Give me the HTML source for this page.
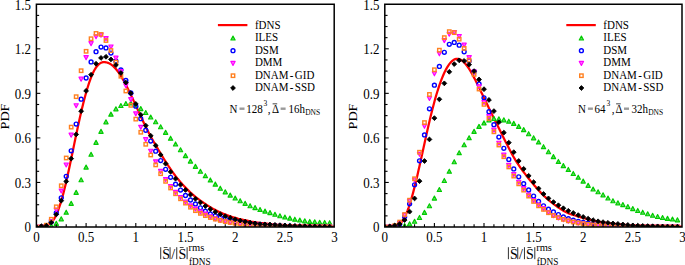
<!DOCTYPE html>
<html><head><meta charset="utf-8"><style>
html,body{margin:0;padding:0;background:#fff;}
body{width:685px;height:265px;position:relative;overflow:hidden;font-family:"Liberation Serif",serif;}
</style></head><body>
<svg width="685" height="265" viewBox="0 0 685 265" style="position:absolute;left:0;top:0">
<defs>
<clipPath id="clipL"><rect x="36.4" y="4.25" width="297.80" height="222.75"/></clipPath>
<clipPath id="clipR"><rect x="384.8" y="4.25" width="297.20" height="222.75"/></clipPath>
</defs>
<g clip-path="url(#clipL)">
<polyline points="36.40,226.93 37.39,226.89 38.39,226.84 39.38,226.77 40.38,226.68 41.37,226.55 42.36,226.38 43.36,226.16 44.35,225.88 45.35,225.55 46.34,225.35 47.33,225.06 48.33,224.66 49.32,224.12 50.32,223.41 51.31,222.52 52.30,221.43 53.30,220.12 54.29,218.58 55.29,216.81 56.28,214.78 57.27,212.51 58.27,209.99 59.26,207.22 60.26,204.22 61.25,200.98 62.24,197.52 63.24,193.85 64.23,189.97 65.23,185.92 66.22,181.69 67.21,177.32 68.21,172.82 69.20,168.21 70.20,163.52 71.19,158.77 72.18,153.98 73.18,149.17 74.17,144.37 75.17,139.59 76.16,134.85 77.15,130.17 78.15,125.56 79.14,121.04 80.14,116.61 81.13,112.29 82.12,108.10 83.12,104.03 84.11,100.10 85.11,96.32 86.10,92.71 87.09,89.27 88.09,86.01 89.08,82.95 90.08,80.09 91.07,77.44 92.06,75.00 93.06,72.79 94.05,70.79 95.05,69.02 96.04,67.48 97.03,66.14 98.03,65.02 99.02,64.10 100.02,63.37 101.01,62.82 102.00,62.44 103.00,62.20 103.99,62.10 104.99,62.13 105.98,62.27 106.97,62.51 107.97,62.84 108.96,63.27 109.96,63.79 110.95,64.41 111.94,65.13 112.94,65.95 113.93,66.88 114.93,67.91 115.92,69.03 116.91,70.26 117.91,71.57 118.90,72.97 119.90,74.45 120.89,76.00 121.88,77.62 122.88,79.31 123.87,81.07 124.87,82.88 125.86,84.75 126.85,86.67 127.85,88.64 128.84,90.64 129.84,92.69 130.83,94.76 131.82,96.86 132.82,98.98 133.81,101.12 134.81,103.27 135.80,105.44 136.79,107.61 137.79,109.78 138.78,111.96 139.78,114.13 140.77,116.29 141.76,118.44 142.76,120.57 143.75,122.68 144.75,124.76 145.74,126.81 146.73,128.82 147.73,130.78 148.72,132.70 149.72,134.58 150.71,136.42 151.70,138.21 152.70,139.98 153.69,141.73 154.69,143.46 155.68,145.18 156.67,146.88 157.67,148.58 158.66,150.27 159.66,151.94 160.65,153.60 161.64,155.24 162.64,156.87 163.63,158.48 164.63,160.07 165.62,161.65 166.61,163.20 167.61,164.74 168.60,166.25 169.60,167.74 170.59,169.20 171.58,170.64 172.58,172.05 173.57,173.43 174.57,174.77 175.56,176.08 176.55,177.36 177.55,178.61 178.54,179.83 179.54,181.01 180.53,182.17 181.52,183.30 182.52,184.41 183.51,185.50 184.51,186.56 185.50,187.61 186.49,188.63 187.49,189.64 188.48,190.63 189.48,191.59 190.47,192.53 191.46,193.44 192.46,194.33 193.45,195.19 194.45,196.03 195.44,196.85 196.43,197.64 197.43,198.41 198.42,199.17 199.42,199.91 200.41,200.63 201.40,201.34 202.40,202.03 203.39,202.71 204.39,203.39 205.38,204.05 206.37,204.70 207.37,205.34 208.36,205.97 209.36,206.59 210.35,207.20 211.34,207.80 212.34,208.38 213.33,208.94 214.33,209.49 215.32,210.02 216.31,210.53 217.31,211.03 218.30,211.51 219.30,211.98 220.29,212.44 221.28,212.88 222.28,213.31 223.27,213.72 224.27,214.13 225.26,214.52 226.25,214.91 227.25,215.28 228.24,215.64 229.24,216.00 230.23,216.34 231.22,216.67 232.22,216.99 233.21,217.31 234.21,217.61 235.20,217.90 236.19,218.19 237.19,218.46 238.18,218.73 239.18,218.99 240.17,219.23 241.16,219.42 242.16,219.62 243.15,219.81 244.15,220.01 245.14,220.22 246.13,220.44 247.13,220.66 248.12,220.90 249.12,221.13 250.11,221.37 251.10,221.58 252.10,221.75 253.09,221.92 254.09,222.09 255.08,222.25 256.07,222.40 257.07,222.55 258.06,222.70 259.06,222.84 260.05,222.95 261.04,223.03 262.04,223.12 263.03,223.21 264.03,223.31 265.02,223.42 266.01,223.54 267.01,223.68 268.00,223.82 269.00,223.97 269.99,224.12 270.98,224.25 271.98,224.35 272.97,224.44 273.97,224.54 274.96,224.62 275.95,224.71 276.95,224.79 277.94,224.87 278.94,224.95 279.93,224.97 280.92,224.98 281.92,224.99 282.91,224.99 283.91,225.01 284.90,225.02 285.89,225.05 286.89,225.08 287.88,225.11 288.88,225.15 289.87,225.19 290.86,225.24 291.86,225.28 292.85,225.33 293.85,225.38 294.84,225.42 295.83,225.47 296.83,225.51 297.82,225.56 298.82,225.60 299.81,225.64 300.80,225.68 301.80,225.72 302.79,225.76 303.79,225.80 304.78,225.83 305.77,225.87 306.77,225.90 307.76,225.93 308.76,225.97 309.75,226.00 310.74,226.03 311.74,226.06 312.73,226.08 313.73,226.11 314.72,226.14 315.71,226.16 316.71,226.19 317.70,226.21 318.70,226.24 319.69,226.26 320.68,226.28 321.68,226.30 322.67,226.32 323.67,226.34 324.66,226.36 325.65,226.38 326.65,226.40 327.64,226.42 328.64,226.44 329.63,226.45 330.62,226.47 331.62,226.48 332.61,226.50 333.61,226.51 334.60,226.53" fill="none" stroke="#ff0000" stroke-width="2.25" stroke-linejoin="round"/>
<path d="M36.40 224.80L38.55 228.80L34.25 228.80Z" fill="#5cd85c" stroke="#00cc00" stroke-width="1.15" stroke-linejoin="round"/>
<path d="M41.37 224.80L43.52 228.80L39.22 228.80Z" fill="#5cd85c" stroke="#00cc00" stroke-width="1.15" stroke-linejoin="round"/>
<path d="M46.34 224.70L48.49 228.70L44.19 228.70Z" fill="#5cd85c" stroke="#00cc00" stroke-width="1.15" stroke-linejoin="round"/>
<path d="M51.31 223.81L53.46 227.81L49.16 227.81Z" fill="#5cd85c" stroke="#00cc00" stroke-width="1.15" stroke-linejoin="round"/>
<path d="M56.28 221.35L58.43 225.35L54.13 225.35Z" fill="#5cd85c" stroke="#00cc00" stroke-width="1.15" stroke-linejoin="round"/>
<path d="M61.25 216.84L63.40 220.84L59.10 220.84Z" fill="#5cd85c" stroke="#00cc00" stroke-width="1.15" stroke-linejoin="round"/>
<path d="M66.22 210.17L68.37 214.17L64.07 214.17Z" fill="#5cd85c" stroke="#00cc00" stroke-width="1.15" stroke-linejoin="round"/>
<path d="M71.19 201.32L73.34 205.32L69.04 205.32Z" fill="#5cd85c" stroke="#00cc00" stroke-width="1.15" stroke-linejoin="round"/>
<path d="M76.16 190.31L78.31 194.31L74.01 194.31Z" fill="#5cd85c" stroke="#00cc00" stroke-width="1.15" stroke-linejoin="round"/>
<path d="M81.13 177.76L83.28 181.76L78.98 181.76Z" fill="#5cd85c" stroke="#00cc00" stroke-width="1.15" stroke-linejoin="round"/>
<path d="M86.10 165.08L88.25 169.08L83.95 169.08Z" fill="#5cd85c" stroke="#00cc00" stroke-width="1.15" stroke-linejoin="round"/>
<path d="M91.07 152.25L93.22 156.25L88.92 156.25Z" fill="#5cd85c" stroke="#00cc00" stroke-width="1.15" stroke-linejoin="round"/>
<path d="M96.04 140.34L98.19 144.34L93.89 144.34Z" fill="#5cd85c" stroke="#00cc00" stroke-width="1.15" stroke-linejoin="round"/>
<path d="M101.01 129.35L103.16 133.35L98.86 133.35Z" fill="#5cd85c" stroke="#00cc00" stroke-width="1.15" stroke-linejoin="round"/>
<path d="M105.98 119.85L108.13 123.85L103.83 123.85Z" fill="#5cd85c" stroke="#00cc00" stroke-width="1.15" stroke-linejoin="round"/>
<path d="M110.95 112.14L113.10 116.14L108.80 116.14Z" fill="#5cd85c" stroke="#00cc00" stroke-width="1.15" stroke-linejoin="round"/>
<path d="M115.92 106.82L118.07 110.82L113.77 110.82Z" fill="#5cd85c" stroke="#00cc00" stroke-width="1.15" stroke-linejoin="round"/>
<path d="M120.89 103.54L123.04 107.54L118.74 107.54Z" fill="#5cd85c" stroke="#00cc00" stroke-width="1.15" stroke-linejoin="round"/>
<path d="M125.86 101.49L128.01 105.49L123.71 105.49Z" fill="#5cd85c" stroke="#00cc00" stroke-width="1.15" stroke-linejoin="round"/>
<path d="M130.83 100.93L132.98 104.93L128.68 104.93Z" fill="#5cd85c" stroke="#00cc00" stroke-width="1.15" stroke-linejoin="round"/>
<path d="M135.80 103.03L137.95 107.03L133.65 107.03Z" fill="#5cd85c" stroke="#00cc00" stroke-width="1.15" stroke-linejoin="round"/>
<path d="M140.77 106.58L142.92 110.58L138.62 110.58Z" fill="#5cd85c" stroke="#00cc00" stroke-width="1.15" stroke-linejoin="round"/>
<path d="M145.74 110.50L147.89 114.50L143.59 114.50Z" fill="#5cd85c" stroke="#00cc00" stroke-width="1.15" stroke-linejoin="round"/>
<path d="M150.71 114.99L152.86 118.99L148.56 118.99Z" fill="#5cd85c" stroke="#00cc00" stroke-width="1.15" stroke-linejoin="round"/>
<path d="M155.68 119.75L157.83 123.75L153.53 123.75Z" fill="#5cd85c" stroke="#00cc00" stroke-width="1.15" stroke-linejoin="round"/>
<path d="M160.65 124.79L162.80 128.79L158.50 128.79Z" fill="#5cd85c" stroke="#00cc00" stroke-width="1.15" stroke-linejoin="round"/>
<path d="M165.62 130.31L167.77 134.31L163.47 134.31Z" fill="#5cd85c" stroke="#00cc00" stroke-width="1.15" stroke-linejoin="round"/>
<path d="M170.59 136.19L172.74 140.19L168.44 140.19Z" fill="#5cd85c" stroke="#00cc00" stroke-width="1.15" stroke-linejoin="round"/>
<path d="M175.56 141.95L177.71 145.95L173.41 145.95Z" fill="#5cd85c" stroke="#00cc00" stroke-width="1.15" stroke-linejoin="round"/>
<path d="M180.53 147.73L182.68 151.73L178.38 151.73Z" fill="#5cd85c" stroke="#00cc00" stroke-width="1.15" stroke-linejoin="round"/>
<path d="M185.50 153.63L187.65 157.63L183.35 157.63Z" fill="#5cd85c" stroke="#00cc00" stroke-width="1.15" stroke-linejoin="round"/>
<path d="M190.47 159.09L192.62 163.09L188.32 163.09Z" fill="#5cd85c" stroke="#00cc00" stroke-width="1.15" stroke-linejoin="round"/>
<path d="M195.44 164.35L197.59 168.35L193.29 168.35Z" fill="#5cd85c" stroke="#00cc00" stroke-width="1.15" stroke-linejoin="round"/>
<path d="M200.41 169.27L202.56 173.27L198.26 173.27Z" fill="#5cd85c" stroke="#00cc00" stroke-width="1.15" stroke-linejoin="round"/>
<path d="M205.38 173.66L207.53 177.66L203.23 177.66Z" fill="#5cd85c" stroke="#00cc00" stroke-width="1.15" stroke-linejoin="round"/>
<path d="M210.35 177.91L212.50 181.91L208.20 181.91Z" fill="#5cd85c" stroke="#00cc00" stroke-width="1.15" stroke-linejoin="round"/>
<path d="M215.32 182.13L217.47 186.13L213.17 186.13Z" fill="#5cd85c" stroke="#00cc00" stroke-width="1.15" stroke-linejoin="round"/>
<path d="M220.29 186.21L222.44 190.21L218.14 190.21Z" fill="#5cd85c" stroke="#00cc00" stroke-width="1.15" stroke-linejoin="round"/>
<path d="M225.26 189.81L227.41 193.81L223.11 193.81Z" fill="#5cd85c" stroke="#00cc00" stroke-width="1.15" stroke-linejoin="round"/>
<path d="M230.23 193.10L232.38 197.10L228.08 197.10Z" fill="#5cd85c" stroke="#00cc00" stroke-width="1.15" stroke-linejoin="round"/>
<path d="M235.20 196.01L237.35 200.01L233.05 200.01Z" fill="#5cd85c" stroke="#00cc00" stroke-width="1.15" stroke-linejoin="round"/>
<path d="M240.17 198.72L242.32 202.72L238.02 202.72Z" fill="#5cd85c" stroke="#00cc00" stroke-width="1.15" stroke-linejoin="round"/>
<path d="M245.14 201.35L247.29 205.35L242.99 205.35Z" fill="#5cd85c" stroke="#00cc00" stroke-width="1.15" stroke-linejoin="round"/>
<path d="M250.11 203.71L252.26 207.71L247.96 207.71Z" fill="#5cd85c" stroke="#00cc00" stroke-width="1.15" stroke-linejoin="round"/>
<path d="M255.08 205.60L257.23 209.60L252.93 209.60Z" fill="#5cd85c" stroke="#00cc00" stroke-width="1.15" stroke-linejoin="round"/>
<path d="M260.05 207.43L262.20 211.43L257.90 211.43Z" fill="#5cd85c" stroke="#00cc00" stroke-width="1.15" stroke-linejoin="round"/>
<path d="M265.02 209.12L267.17 213.12L262.87 213.12Z" fill="#5cd85c" stroke="#00cc00" stroke-width="1.15" stroke-linejoin="round"/>
<path d="M269.99 210.59L272.14 214.59L267.84 214.59Z" fill="#5cd85c" stroke="#00cc00" stroke-width="1.15" stroke-linejoin="round"/>
<path d="M274.96 212.26L277.11 216.26L272.81 216.26Z" fill="#5cd85c" stroke="#00cc00" stroke-width="1.15" stroke-linejoin="round"/>
<path d="M279.93 213.77L282.08 217.77L277.78 217.77Z" fill="#5cd85c" stroke="#00cc00" stroke-width="1.15" stroke-linejoin="round"/>
<path d="M284.90 214.99L287.05 218.99L282.75 218.99Z" fill="#5cd85c" stroke="#00cc00" stroke-width="1.15" stroke-linejoin="round"/>
<path d="M289.87 216.09L292.02 220.09L287.72 220.09Z" fill="#5cd85c" stroke="#00cc00" stroke-width="1.15" stroke-linejoin="round"/>
<path d="M294.84 217.15L296.99 221.15L292.69 221.15Z" fill="#5cd85c" stroke="#00cc00" stroke-width="1.15" stroke-linejoin="round"/>
<path d="M299.81 218.02L301.96 222.02L297.66 222.02Z" fill="#5cd85c" stroke="#00cc00" stroke-width="1.15" stroke-linejoin="round"/>
<path d="M304.78 218.81L306.93 222.81L302.63 222.81Z" fill="#5cd85c" stroke="#00cc00" stroke-width="1.15" stroke-linejoin="round"/>
<path d="M309.75 219.40L311.90 223.40L307.60 223.40Z" fill="#5cd85c" stroke="#00cc00" stroke-width="1.15" stroke-linejoin="round"/>
<path d="M314.72 219.82L316.87 223.82L312.57 223.82Z" fill="#5cd85c" stroke="#00cc00" stroke-width="1.15" stroke-linejoin="round"/>
<path d="M319.69 220.23L321.84 224.23L317.54 224.23Z" fill="#5cd85c" stroke="#00cc00" stroke-width="1.15" stroke-linejoin="round"/>
<path d="M324.66 220.42L326.81 224.42L322.51 224.42Z" fill="#5cd85c" stroke="#00cc00" stroke-width="1.15" stroke-linejoin="round"/>
<path d="M329.63 220.69L331.78 224.69L327.48 224.69Z" fill="#5cd85c" stroke="#00cc00" stroke-width="1.15" stroke-linejoin="round"/>
<circle cx="36.40" cy="227.00" r="1.95" fill="none" stroke="#0000ff" stroke-width="1.4"/>
<circle cx="41.37" cy="226.86" r="1.95" fill="none" stroke="#0000ff" stroke-width="1.4"/>
<circle cx="46.34" cy="225.75" r="1.95" fill="none" stroke="#0000ff" stroke-width="1.4"/>
<circle cx="51.31" cy="221.63" r="1.95" fill="none" stroke="#0000ff" stroke-width="1.4"/>
<circle cx="56.28" cy="212.96" r="1.95" fill="none" stroke="#0000ff" stroke-width="1.4"/>
<circle cx="61.25" cy="197.82" r="1.95" fill="none" stroke="#0000ff" stroke-width="1.4"/>
<circle cx="66.22" cy="176.36" r="1.95" fill="none" stroke="#0000ff" stroke-width="1.4"/>
<circle cx="71.19" cy="150.86" r="1.95" fill="none" stroke="#0000ff" stroke-width="1.4"/>
<circle cx="76.16" cy="124.05" r="1.95" fill="none" stroke="#0000ff" stroke-width="1.4"/>
<circle cx="81.13" cy="99.16" r="1.95" fill="none" stroke="#0000ff" stroke-width="1.4"/>
<circle cx="86.10" cy="78.00" r="1.95" fill="none" stroke="#0000ff" stroke-width="1.4"/>
<circle cx="91.07" cy="61.89" r="1.95" fill="none" stroke="#0000ff" stroke-width="1.4"/>
<circle cx="96.04" cy="51.68" r="1.95" fill="none" stroke="#0000ff" stroke-width="1.4"/>
<circle cx="101.01" cy="47.03" r="1.95" fill="none" stroke="#0000ff" stroke-width="1.4"/>
<circle cx="105.98" cy="47.89" r="1.95" fill="none" stroke="#0000ff" stroke-width="1.4"/>
<circle cx="110.95" cy="53.11" r="1.95" fill="none" stroke="#0000ff" stroke-width="1.4"/>
<circle cx="115.92" cy="61.22" r="1.95" fill="none" stroke="#0000ff" stroke-width="1.4"/>
<circle cx="120.89" cy="69.98" r="1.95" fill="none" stroke="#0000ff" stroke-width="1.4"/>
<circle cx="125.86" cy="80.42" r="1.95" fill="none" stroke="#0000ff" stroke-width="1.4"/>
<circle cx="130.83" cy="93.02" r="1.95" fill="none" stroke="#0000ff" stroke-width="1.4"/>
<circle cx="135.80" cy="106.22" r="1.95" fill="none" stroke="#0000ff" stroke-width="1.4"/>
<circle cx="140.77" cy="118.67" r="1.95" fill="none" stroke="#0000ff" stroke-width="1.4"/>
<circle cx="145.74" cy="130.25" r="1.95" fill="none" stroke="#0000ff" stroke-width="1.4"/>
<circle cx="150.71" cy="141.12" r="1.95" fill="none" stroke="#0000ff" stroke-width="1.4"/>
<circle cx="155.68" cy="151.21" r="1.95" fill="none" stroke="#0000ff" stroke-width="1.4"/>
<circle cx="160.65" cy="160.60" r="1.95" fill="none" stroke="#0000ff" stroke-width="1.4"/>
<circle cx="165.62" cy="169.28" r="1.95" fill="none" stroke="#0000ff" stroke-width="1.4"/>
<circle cx="170.59" cy="177.35" r="1.95" fill="none" stroke="#0000ff" stroke-width="1.4"/>
<circle cx="175.56" cy="184.18" r="1.95" fill="none" stroke="#0000ff" stroke-width="1.4"/>
<circle cx="180.53" cy="190.07" r="1.95" fill="none" stroke="#0000ff" stroke-width="1.4"/>
<circle cx="185.50" cy="195.50" r="1.95" fill="none" stroke="#0000ff" stroke-width="1.4"/>
<circle cx="190.47" cy="199.98" r="1.95" fill="none" stroke="#0000ff" stroke-width="1.4"/>
<circle cx="195.44" cy="203.91" r="1.95" fill="none" stroke="#0000ff" stroke-width="1.4"/>
<circle cx="200.41" cy="207.79" r="1.95" fill="none" stroke="#0000ff" stroke-width="1.4"/>
<circle cx="205.38" cy="211.18" r="1.95" fill="none" stroke="#0000ff" stroke-width="1.4"/>
<circle cx="210.35" cy="213.89" r="1.95" fill="none" stroke="#0000ff" stroke-width="1.4"/>
<circle cx="215.32" cy="215.71" r="1.95" fill="none" stroke="#0000ff" stroke-width="1.4"/>
<circle cx="220.29" cy="217.22" r="1.95" fill="none" stroke="#0000ff" stroke-width="1.4"/>
<circle cx="225.26" cy="218.77" r="1.95" fill="none" stroke="#0000ff" stroke-width="1.4"/>
<circle cx="230.23" cy="220.09" r="1.95" fill="none" stroke="#0000ff" stroke-width="1.4"/>
<circle cx="235.20" cy="221.21" r="1.95" fill="none" stroke="#0000ff" stroke-width="1.4"/>
<circle cx="240.17" cy="222.15" r="1.95" fill="none" stroke="#0000ff" stroke-width="1.4"/>
<circle cx="245.14" cy="222.94" r="1.95" fill="none" stroke="#0000ff" stroke-width="1.4"/>
<circle cx="250.11" cy="223.61" r="1.95" fill="none" stroke="#0000ff" stroke-width="1.4"/>
<circle cx="255.08" cy="224.17" r="1.95" fill="none" stroke="#0000ff" stroke-width="1.4"/>
<circle cx="260.05" cy="224.64" r="1.95" fill="none" stroke="#0000ff" stroke-width="1.4"/>
<circle cx="265.02" cy="225.03" r="1.95" fill="none" stroke="#0000ff" stroke-width="1.4"/>
<circle cx="269.99" cy="225.36" r="1.95" fill="none" stroke="#0000ff" stroke-width="1.4"/>
<circle cx="274.96" cy="225.63" r="1.95" fill="none" stroke="#0000ff" stroke-width="1.4"/>
<circle cx="279.93" cy="225.86" r="1.95" fill="none" stroke="#0000ff" stroke-width="1.4"/>
<circle cx="284.90" cy="226.05" r="1.95" fill="none" stroke="#0000ff" stroke-width="1.4"/>
<circle cx="289.87" cy="226.21" r="1.95" fill="none" stroke="#0000ff" stroke-width="1.4"/>
<circle cx="294.84" cy="226.35" r="1.95" fill="none" stroke="#0000ff" stroke-width="1.4"/>
<circle cx="299.81" cy="226.46" r="1.95" fill="none" stroke="#0000ff" stroke-width="1.4"/>
<circle cx="304.78" cy="226.55" r="1.95" fill="none" stroke="#0000ff" stroke-width="1.4"/>
<circle cx="309.75" cy="226.62" r="1.95" fill="none" stroke="#0000ff" stroke-width="1.4"/>
<circle cx="314.72" cy="226.69" r="1.95" fill="none" stroke="#0000ff" stroke-width="1.4"/>
<circle cx="319.69" cy="226.74" r="1.95" fill="none" stroke="#0000ff" stroke-width="1.4"/>
<circle cx="324.66" cy="226.79" r="1.95" fill="none" stroke="#0000ff" stroke-width="1.4"/>
<circle cx="329.63" cy="226.82" r="1.95" fill="none" stroke="#0000ff" stroke-width="1.4"/>
<path d="M36.40 229.20L38.55 225.20L34.25 225.20Z" fill="#ff66ff" stroke="#ff00ff" stroke-width="1.15" stroke-linejoin="round"/>
<path d="M41.37 229.19L43.52 225.19L39.22 225.19Z" fill="#ff66ff" stroke="#ff00ff" stroke-width="1.15" stroke-linejoin="round"/>
<path d="M46.34 228.48L48.49 224.48L44.19 224.48Z" fill="#ff66ff" stroke="#ff00ff" stroke-width="1.15" stroke-linejoin="round"/>
<path d="M51.31 223.74L53.46 219.74L49.16 219.74Z" fill="#ff66ff" stroke="#ff00ff" stroke-width="1.15" stroke-linejoin="round"/>
<path d="M56.28 212.08L58.43 208.08L54.13 208.08Z" fill="#ff66ff" stroke="#ff00ff" stroke-width="1.15" stroke-linejoin="round"/>
<path d="M61.25 193.05L63.40 189.05L59.10 189.05Z" fill="#ff66ff" stroke="#ff00ff" stroke-width="1.15" stroke-linejoin="round"/>
<path d="M66.22 167.00L68.37 163.00L64.07 163.00Z" fill="#ff66ff" stroke="#ff00ff" stroke-width="1.15" stroke-linejoin="round"/>
<path d="M71.19 137.17L73.34 133.17L69.04 133.17Z" fill="#ff66ff" stroke="#ff00ff" stroke-width="1.15" stroke-linejoin="round"/>
<path d="M76.16 107.77L78.31 103.77L74.01 103.77Z" fill="#ff66ff" stroke="#ff00ff" stroke-width="1.15" stroke-linejoin="round"/>
<path d="M81.13 81.16L83.28 77.16L78.98 77.16Z" fill="#ff66ff" stroke="#ff00ff" stroke-width="1.15" stroke-linejoin="round"/>
<path d="M86.10 59.63L88.25 55.63L83.95 55.63Z" fill="#ff66ff" stroke="#ff00ff" stroke-width="1.15" stroke-linejoin="round"/>
<path d="M91.07 45.68L93.22 41.68L88.92 41.68Z" fill="#ff66ff" stroke="#ff00ff" stroke-width="1.15" stroke-linejoin="round"/>
<path d="M96.04 38.77L98.19 34.77L93.89 34.77Z" fill="#ff66ff" stroke="#ff00ff" stroke-width="1.15" stroke-linejoin="round"/>
<path d="M101.01 37.12L103.16 33.12L98.86 33.12Z" fill="#ff66ff" stroke="#ff00ff" stroke-width="1.15" stroke-linejoin="round"/>
<path d="M105.98 40.62L108.13 36.62L103.83 36.62Z" fill="#ff66ff" stroke="#ff00ff" stroke-width="1.15" stroke-linejoin="round"/>
<path d="M110.95 48.98L113.10 44.98L108.80 44.98Z" fill="#ff66ff" stroke="#ff00ff" stroke-width="1.15" stroke-linejoin="round"/>
<path d="M115.92 60.18L118.07 56.18L113.77 56.18Z" fill="#ff66ff" stroke="#ff00ff" stroke-width="1.15" stroke-linejoin="round"/>
<path d="M120.89 73.61L123.04 69.61L118.74 69.61Z" fill="#ff66ff" stroke="#ff00ff" stroke-width="1.15" stroke-linejoin="round"/>
<path d="M125.86 87.80L128.01 83.80L123.71 83.80Z" fill="#ff66ff" stroke="#ff00ff" stroke-width="1.15" stroke-linejoin="round"/>
<path d="M130.83 101.62L132.98 97.62L128.68 97.62Z" fill="#ff66ff" stroke="#ff00ff" stroke-width="1.15" stroke-linejoin="round"/>
<path d="M135.80 115.86L137.95 111.86L133.65 111.86Z" fill="#ff66ff" stroke="#ff00ff" stroke-width="1.15" stroke-linejoin="round"/>
<path d="M140.77 129.33L142.92 125.33L138.62 125.33Z" fill="#ff66ff" stroke="#ff00ff" stroke-width="1.15" stroke-linejoin="round"/>
<path d="M145.74 141.68L147.89 137.68L143.59 137.68Z" fill="#ff66ff" stroke="#ff00ff" stroke-width="1.15" stroke-linejoin="round"/>
<path d="M150.71 153.22L152.86 149.22L148.56 149.22Z" fill="#ff66ff" stroke="#ff00ff" stroke-width="1.15" stroke-linejoin="round"/>
<path d="M155.68 163.87L157.83 159.87L153.53 159.87Z" fill="#ff66ff" stroke="#ff00ff" stroke-width="1.15" stroke-linejoin="round"/>
<path d="M160.65 173.42L162.80 169.42L158.50 169.42Z" fill="#ff66ff" stroke="#ff00ff" stroke-width="1.15" stroke-linejoin="round"/>
<path d="M165.62 181.60L167.77 177.60L163.47 177.60Z" fill="#ff66ff" stroke="#ff00ff" stroke-width="1.15" stroke-linejoin="round"/>
<path d="M170.59 188.49L172.74 184.49L168.44 184.49Z" fill="#ff66ff" stroke="#ff00ff" stroke-width="1.15" stroke-linejoin="round"/>
<path d="M175.56 194.36L177.71 190.36L173.41 190.36Z" fill="#ff66ff" stroke="#ff00ff" stroke-width="1.15" stroke-linejoin="round"/>
<path d="M180.53 199.51L182.68 195.51L178.38 195.51Z" fill="#ff66ff" stroke="#ff00ff" stroke-width="1.15" stroke-linejoin="round"/>
<path d="M185.50 204.01L187.65 200.01L183.35 200.01Z" fill="#ff66ff" stroke="#ff00ff" stroke-width="1.15" stroke-linejoin="round"/>
<path d="M190.47 207.89L192.62 203.89L188.32 203.89Z" fill="#ff66ff" stroke="#ff00ff" stroke-width="1.15" stroke-linejoin="round"/>
<path d="M195.44 211.08L197.59 207.08L193.29 207.08Z" fill="#ff66ff" stroke="#ff00ff" stroke-width="1.15" stroke-linejoin="round"/>
<path d="M200.41 213.93L202.56 209.93L198.26 209.93Z" fill="#ff66ff" stroke="#ff00ff" stroke-width="1.15" stroke-linejoin="round"/>
<path d="M205.38 216.14L207.53 212.14L203.23 212.14Z" fill="#ff66ff" stroke="#ff00ff" stroke-width="1.15" stroke-linejoin="round"/>
<path d="M210.35 218.77L212.50 214.77L208.20 214.77Z" fill="#ff66ff" stroke="#ff00ff" stroke-width="1.15" stroke-linejoin="round"/>
<path d="M215.32 220.94L217.47 216.94L213.17 216.94Z" fill="#ff66ff" stroke="#ff00ff" stroke-width="1.15" stroke-linejoin="round"/>
<path d="M220.29 222.38L222.44 218.38L218.14 218.38Z" fill="#ff66ff" stroke="#ff00ff" stroke-width="1.15" stroke-linejoin="round"/>
<path d="M225.26 223.56L227.41 219.56L223.11 219.56Z" fill="#ff66ff" stroke="#ff00ff" stroke-width="1.15" stroke-linejoin="round"/>
<path d="M230.23 224.54L232.38 220.54L228.08 220.54Z" fill="#ff66ff" stroke="#ff00ff" stroke-width="1.15" stroke-linejoin="round"/>
<path d="M235.20 225.36L237.35 221.36L233.05 221.36Z" fill="#ff66ff" stroke="#ff00ff" stroke-width="1.15" stroke-linejoin="round"/>
<path d="M240.17 226.03L242.32 222.03L238.02 222.03Z" fill="#ff66ff" stroke="#ff00ff" stroke-width="1.15" stroke-linejoin="round"/>
<path d="M245.14 226.59L247.29 222.59L242.99 222.59Z" fill="#ff66ff" stroke="#ff00ff" stroke-width="1.15" stroke-linejoin="round"/>
<path d="M250.11 227.06L252.26 223.06L247.96 223.06Z" fill="#ff66ff" stroke="#ff00ff" stroke-width="1.15" stroke-linejoin="round"/>
<path d="M255.08 227.44L257.23 223.44L252.93 223.44Z" fill="#ff66ff" stroke="#ff00ff" stroke-width="1.15" stroke-linejoin="round"/>
<path d="M260.05 227.75L262.20 223.75L257.90 223.75Z" fill="#ff66ff" stroke="#ff00ff" stroke-width="1.15" stroke-linejoin="round"/>
<path d="M265.02 228.01L267.17 224.01L262.87 224.01Z" fill="#ff66ff" stroke="#ff00ff" stroke-width="1.15" stroke-linejoin="round"/>
<path d="M269.99 228.22L272.14 224.22L267.84 224.22Z" fill="#ff66ff" stroke="#ff00ff" stroke-width="1.15" stroke-linejoin="round"/>
<path d="M274.96 228.40L277.11 224.40L272.81 224.40Z" fill="#ff66ff" stroke="#ff00ff" stroke-width="1.15" stroke-linejoin="round"/>
<path d="M279.93 228.54L282.08 224.54L277.78 224.54Z" fill="#ff66ff" stroke="#ff00ff" stroke-width="1.15" stroke-linejoin="round"/>
<path d="M284.90 228.66L287.05 224.66L282.75 224.66Z" fill="#ff66ff" stroke="#ff00ff" stroke-width="1.15" stroke-linejoin="round"/>
<path d="M289.87 228.76L292.02 224.76L287.72 224.76Z" fill="#ff66ff" stroke="#ff00ff" stroke-width="1.15" stroke-linejoin="round"/>
<path d="M294.84 228.84L296.99 224.84L292.69 224.84Z" fill="#ff66ff" stroke="#ff00ff" stroke-width="1.15" stroke-linejoin="round"/>
<path d="M299.81 228.90L301.96 224.90L297.66 224.90Z" fill="#ff66ff" stroke="#ff00ff" stroke-width="1.15" stroke-linejoin="round"/>
<path d="M304.78 228.96L306.93 224.96L302.63 224.96Z" fill="#ff66ff" stroke="#ff00ff" stroke-width="1.15" stroke-linejoin="round"/>
<path d="M309.75 229.00L311.90 225.00L307.60 225.00Z" fill="#ff66ff" stroke="#ff00ff" stroke-width="1.15" stroke-linejoin="round"/>
<path d="M314.72 229.04L316.87 225.04L312.57 225.04Z" fill="#ff66ff" stroke="#ff00ff" stroke-width="1.15" stroke-linejoin="round"/>
<path d="M319.69 229.07L321.84 225.07L317.54 225.07Z" fill="#ff66ff" stroke="#ff00ff" stroke-width="1.15" stroke-linejoin="round"/>
<path d="M324.66 229.09L326.81 225.09L322.51 225.09Z" fill="#ff66ff" stroke="#ff00ff" stroke-width="1.15" stroke-linejoin="round"/>
<path d="M329.63 229.11L331.78 225.11L327.48 225.11Z" fill="#ff66ff" stroke="#ff00ff" stroke-width="1.15" stroke-linejoin="round"/>
<rect x="34.70" y="225.30" width="3.4" height="3.4" fill="none" stroke="#ff8020" stroke-width="1.4"/>
<rect x="39.67" y="225.24" width="3.4" height="3.4" fill="none" stroke="#ff8020" stroke-width="1.4"/>
<rect x="44.64" y="223.50" width="3.4" height="3.4" fill="none" stroke="#ff8020" stroke-width="1.4"/>
<rect x="49.61" y="217.57" width="3.4" height="3.4" fill="none" stroke="#ff8020" stroke-width="1.4"/>
<rect x="54.58" y="205.11" width="3.4" height="3.4" fill="none" stroke="#ff8020" stroke-width="1.4"/>
<rect x="59.55" y="184.09" width="3.4" height="3.4" fill="none" stroke="#ff8020" stroke-width="1.4"/>
<rect x="64.52" y="156.28" width="3.4" height="3.4" fill="none" stroke="#ff8020" stroke-width="1.4"/>
<rect x="69.49" y="125.41" width="3.4" height="3.4" fill="none" stroke="#ff8020" stroke-width="1.4"/>
<rect x="74.46" y="94.99" width="3.4" height="3.4" fill="none" stroke="#ff8020" stroke-width="1.4"/>
<rect x="79.43" y="69.02" width="3.4" height="3.4" fill="none" stroke="#ff8020" stroke-width="1.4"/>
<rect x="84.40" y="49.59" width="3.4" height="3.4" fill="none" stroke="#ff8020" stroke-width="1.4"/>
<rect x="89.37" y="37.04" width="3.4" height="3.4" fill="none" stroke="#ff8020" stroke-width="1.4"/>
<rect x="94.34" y="31.73" width="3.4" height="3.4" fill="none" stroke="#ff8020" stroke-width="1.4"/>
<rect x="99.31" y="32.76" width="3.4" height="3.4" fill="none" stroke="#ff8020" stroke-width="1.4"/>
<rect x="104.28" y="38.82" width="3.4" height="3.4" fill="none" stroke="#ff8020" stroke-width="1.4"/>
<rect x="109.25" y="48.81" width="3.4" height="3.4" fill="none" stroke="#ff8020" stroke-width="1.4"/>
<rect x="114.22" y="60.49" width="3.4" height="3.4" fill="none" stroke="#ff8020" stroke-width="1.4"/>
<rect x="119.19" y="74.55" width="3.4" height="3.4" fill="none" stroke="#ff8020" stroke-width="1.4"/>
<rect x="124.16" y="89.30" width="3.4" height="3.4" fill="none" stroke="#ff8020" stroke-width="1.4"/>
<rect x="129.13" y="103.64" width="3.4" height="3.4" fill="none" stroke="#ff8020" stroke-width="1.4"/>
<rect x="134.10" y="117.41" width="3.4" height="3.4" fill="none" stroke="#ff8020" stroke-width="1.4"/>
<rect x="139.07" y="130.54" width="3.4" height="3.4" fill="none" stroke="#ff8020" stroke-width="1.4"/>
<rect x="144.04" y="142.58" width="3.4" height="3.4" fill="none" stroke="#ff8020" stroke-width="1.4"/>
<rect x="149.01" y="153.31" width="3.4" height="3.4" fill="none" stroke="#ff8020" stroke-width="1.4"/>
<rect x="153.98" y="163.20" width="3.4" height="3.4" fill="none" stroke="#ff8020" stroke-width="1.4"/>
<rect x="158.95" y="172.00" width="3.4" height="3.4" fill="none" stroke="#ff8020" stroke-width="1.4"/>
<rect x="163.92" y="179.64" width="3.4" height="3.4" fill="none" stroke="#ff8020" stroke-width="1.4"/>
<rect x="168.89" y="186.28" width="3.4" height="3.4" fill="none" stroke="#ff8020" stroke-width="1.4"/>
<rect x="173.86" y="192.05" width="3.4" height="3.4" fill="none" stroke="#ff8020" stroke-width="1.4"/>
<rect x="178.83" y="197.08" width="3.4" height="3.4" fill="none" stroke="#ff8020" stroke-width="1.4"/>
<rect x="183.80" y="201.41" width="3.4" height="3.4" fill="none" stroke="#ff8020" stroke-width="1.4"/>
<rect x="188.77" y="205.49" width="3.4" height="3.4" fill="none" stroke="#ff8020" stroke-width="1.4"/>
<rect x="193.74" y="208.97" width="3.4" height="3.4" fill="none" stroke="#ff8020" stroke-width="1.4"/>
<rect x="198.71" y="211.66" width="3.4" height="3.4" fill="none" stroke="#ff8020" stroke-width="1.4"/>
<rect x="203.68" y="213.91" width="3.4" height="3.4" fill="none" stroke="#ff8020" stroke-width="1.4"/>
<rect x="208.65" y="215.81" width="3.4" height="3.4" fill="none" stroke="#ff8020" stroke-width="1.4"/>
<rect x="213.62" y="217.40" width="3.4" height="3.4" fill="none" stroke="#ff8020" stroke-width="1.4"/>
<rect x="218.59" y="218.74" width="3.4" height="3.4" fill="none" stroke="#ff8020" stroke-width="1.4"/>
<rect x="223.56" y="219.85" width="3.4" height="3.4" fill="none" stroke="#ff8020" stroke-width="1.4"/>
<rect x="228.53" y="220.78" width="3.4" height="3.4" fill="none" stroke="#ff8020" stroke-width="1.4"/>
<rect x="233.50" y="221.55" width="3.4" height="3.4" fill="none" stroke="#ff8020" stroke-width="1.4"/>
<rect x="238.47" y="222.20" width="3.4" height="3.4" fill="none" stroke="#ff8020" stroke-width="1.4"/>
<rect x="243.44" y="222.73" width="3.4" height="3.4" fill="none" stroke="#ff8020" stroke-width="1.4"/>
<rect x="248.41" y="223.18" width="3.4" height="3.4" fill="none" stroke="#ff8020" stroke-width="1.4"/>
<rect x="253.38" y="223.55" width="3.4" height="3.4" fill="none" stroke="#ff8020" stroke-width="1.4"/>
<rect x="258.35" y="223.85" width="3.4" height="3.4" fill="none" stroke="#ff8020" stroke-width="1.4"/>
<rect x="263.32" y="224.10" width="3.4" height="3.4" fill="none" stroke="#ff8020" stroke-width="1.4"/>
<rect x="268.29" y="224.31" width="3.4" height="3.4" fill="none" stroke="#ff8020" stroke-width="1.4"/>
<rect x="273.26" y="224.48" width="3.4" height="3.4" fill="none" stroke="#ff8020" stroke-width="1.4"/>
<rect x="278.23" y="224.63" width="3.4" height="3.4" fill="none" stroke="#ff8020" stroke-width="1.4"/>
<rect x="283.20" y="224.74" width="3.4" height="3.4" fill="none" stroke="#ff8020" stroke-width="1.4"/>
<rect x="288.17" y="224.84" width="3.4" height="3.4" fill="none" stroke="#ff8020" stroke-width="1.4"/>
<rect x="293.14" y="224.92" width="3.4" height="3.4" fill="none" stroke="#ff8020" stroke-width="1.4"/>
<rect x="298.11" y="224.99" width="3.4" height="3.4" fill="none" stroke="#ff8020" stroke-width="1.4"/>
<rect x="303.08" y="225.04" width="3.4" height="3.4" fill="none" stroke="#ff8020" stroke-width="1.4"/>
<rect x="308.05" y="225.09" width="3.4" height="3.4" fill="none" stroke="#ff8020" stroke-width="1.4"/>
<rect x="313.02" y="225.13" width="3.4" height="3.4" fill="none" stroke="#ff8020" stroke-width="1.4"/>
<rect x="317.99" y="225.16" width="3.4" height="3.4" fill="none" stroke="#ff8020" stroke-width="1.4"/>
<rect x="322.96" y="225.18" width="3.4" height="3.4" fill="none" stroke="#ff8020" stroke-width="1.4"/>
<rect x="327.93" y="225.20" width="3.4" height="3.4" fill="none" stroke="#ff8020" stroke-width="1.4"/>
<path d="M36.40 224.60L38.80 227.00L36.40 229.40L34.00 227.00Z" fill="#000" stroke="#000" stroke-width="0.9" stroke-linejoin="round"/>
<path d="M41.37 223.75L43.77 226.15L41.37 228.55L38.97 226.15Z" fill="#000" stroke="#000" stroke-width="0.9" stroke-linejoin="round"/>
<path d="M46.34 223.30L48.74 225.70L46.34 228.10L43.94 225.70Z" fill="#000" stroke="#000" stroke-width="0.9" stroke-linejoin="round"/>
<path d="M51.31 220.15L53.71 222.55L51.31 224.95L48.91 222.55Z" fill="#000" stroke="#000" stroke-width="0.9" stroke-linejoin="round"/>
<path d="M56.28 212.07L58.68 214.47L56.28 216.87L53.88 214.47Z" fill="#000" stroke="#000" stroke-width="0.9" stroke-linejoin="round"/>
<path d="M61.25 198.29L63.65 200.69L61.25 203.09L58.85 200.69Z" fill="#000" stroke="#000" stroke-width="0.9" stroke-linejoin="round"/>
<path d="M66.22 179.04L68.62 181.44L66.22 183.84L63.82 181.44Z" fill="#000" stroke="#000" stroke-width="0.9" stroke-linejoin="round"/>
<path d="M71.19 156.21L73.59 158.61L71.19 161.01L68.79 158.61Z" fill="#000" stroke="#000" stroke-width="0.9" stroke-linejoin="round"/>
<path d="M76.16 132.05L78.56 134.45L76.16 136.85L73.76 134.45Z" fill="#000" stroke="#000" stroke-width="0.9" stroke-linejoin="round"/>
<path d="M81.13 108.77L83.53 111.17L81.13 113.57L78.73 111.17Z" fill="#000" stroke="#000" stroke-width="0.9" stroke-linejoin="round"/>
<path d="M86.10 88.47L88.50 90.87L86.10 93.27L83.70 90.87Z" fill="#000" stroke="#000" stroke-width="0.9" stroke-linejoin="round"/>
<path d="M91.07 72.35L93.47 74.75L91.07 77.15L88.67 74.75Z" fill="#000" stroke="#000" stroke-width="0.9" stroke-linejoin="round"/>
<path d="M96.04 61.35L98.44 63.75L96.04 66.15L93.64 63.75Z" fill="#000" stroke="#000" stroke-width="0.9" stroke-linejoin="round"/>
<path d="M101.01 55.54L103.41 57.94L101.01 60.34L98.61 57.94Z" fill="#000" stroke="#000" stroke-width="0.9" stroke-linejoin="round"/>
<path d="M105.98 54.38L108.38 56.78L105.98 59.18L103.58 56.78Z" fill="#000" stroke="#000" stroke-width="0.9" stroke-linejoin="round"/>
<path d="M110.95 56.99L113.35 59.39L110.95 61.79L108.55 59.39Z" fill="#000" stroke="#000" stroke-width="0.9" stroke-linejoin="round"/>
<path d="M115.92 62.68L118.32 65.08L115.92 67.48L113.52 65.08Z" fill="#000" stroke="#000" stroke-width="0.9" stroke-linejoin="round"/>
<path d="M120.89 70.60L123.29 73.00L120.89 75.40L118.49 73.00Z" fill="#000" stroke="#000" stroke-width="0.9" stroke-linejoin="round"/>
<path d="M125.86 80.17L128.26 82.57L125.86 84.97L123.46 82.57Z" fill="#000" stroke="#000" stroke-width="0.9" stroke-linejoin="round"/>
<path d="M130.83 90.77L133.23 93.17L130.83 95.57L128.43 93.17Z" fill="#000" stroke="#000" stroke-width="0.9" stroke-linejoin="round"/>
<path d="M135.80 101.53L138.20 103.93L135.80 106.33L133.40 103.93Z" fill="#000" stroke="#000" stroke-width="0.9" stroke-linejoin="round"/>
<path d="M140.77 112.40L143.17 114.80L140.77 117.20L138.37 114.80Z" fill="#000" stroke="#000" stroke-width="0.9" stroke-linejoin="round"/>
<path d="M145.74 123.19L148.14 125.59L145.74 127.99L143.34 125.59Z" fill="#000" stroke="#000" stroke-width="0.9" stroke-linejoin="round"/>
<path d="M150.71 133.37L153.11 135.77L150.71 138.17L148.31 135.77Z" fill="#000" stroke="#000" stroke-width="0.9" stroke-linejoin="round"/>
<path d="M155.68 143.13L158.08 145.53L155.68 147.93L153.28 145.53Z" fill="#000" stroke="#000" stroke-width="0.9" stroke-linejoin="round"/>
<path d="M160.65 152.47L163.05 154.87L160.65 157.27L158.25 154.87Z" fill="#000" stroke="#000" stroke-width="0.9" stroke-linejoin="round"/>
<path d="M165.62 161.28L168.02 163.68L165.62 166.08L163.22 163.68Z" fill="#000" stroke="#000" stroke-width="0.9" stroke-linejoin="round"/>
<path d="M170.59 169.40L172.99 171.80L170.59 174.20L168.19 171.80Z" fill="#000" stroke="#000" stroke-width="0.9" stroke-linejoin="round"/>
<path d="M175.56 176.27L177.96 178.67L175.56 181.07L173.16 178.67Z" fill="#000" stroke="#000" stroke-width="0.9" stroke-linejoin="round"/>
<path d="M180.53 182.32L182.93 184.72L180.53 187.12L178.13 184.72Z" fill="#000" stroke="#000" stroke-width="0.9" stroke-linejoin="round"/>
<path d="M185.50 187.55L187.90 189.95L185.50 192.35L183.10 189.95Z" fill="#000" stroke="#000" stroke-width="0.9" stroke-linejoin="round"/>
<path d="M190.47 192.23L192.87 194.63L190.47 197.03L188.07 194.63Z" fill="#000" stroke="#000" stroke-width="0.9" stroke-linejoin="round"/>
<path d="M195.44 196.38L197.84 198.78L195.44 201.18L193.04 198.78Z" fill="#000" stroke="#000" stroke-width="0.9" stroke-linejoin="round"/>
<path d="M200.41 200.09L202.81 202.49L200.41 204.89L198.01 202.49Z" fill="#000" stroke="#000" stroke-width="0.9" stroke-linejoin="round"/>
<path d="M205.38 203.63L207.78 206.03L205.38 208.43L202.98 206.03Z" fill="#000" stroke="#000" stroke-width="0.9" stroke-linejoin="round"/>
<path d="M210.35 206.77L212.75 209.17L210.35 211.57L207.95 209.17Z" fill="#000" stroke="#000" stroke-width="0.9" stroke-linejoin="round"/>
<path d="M215.32 209.49L217.72 211.89L215.32 214.29L212.92 211.89Z" fill="#000" stroke="#000" stroke-width="0.9" stroke-linejoin="round"/>
<path d="M220.29 211.88L222.69 214.28L220.29 216.68L217.89 214.28Z" fill="#000" stroke="#000" stroke-width="0.9" stroke-linejoin="round"/>
<path d="M225.26 213.81L227.66 216.21L225.26 218.61L222.86 216.21Z" fill="#000" stroke="#000" stroke-width="0.9" stroke-linejoin="round"/>
<path d="M230.23 215.50L232.63 217.90L230.23 220.30L227.83 217.90Z" fill="#000" stroke="#000" stroke-width="0.9" stroke-linejoin="round"/>
<path d="M235.20 216.92L237.60 219.32L235.20 221.72L232.80 219.32Z" fill="#000" stroke="#000" stroke-width="0.9" stroke-linejoin="round"/>
<path d="M240.17 218.19L242.57 220.59L240.17 222.99L237.77 220.59Z" fill="#000" stroke="#000" stroke-width="0.9" stroke-linejoin="round"/>
<path d="M245.14 219.28L247.54 221.68L245.14 224.08L242.74 221.68Z" fill="#000" stroke="#000" stroke-width="0.9" stroke-linejoin="round"/>
<path d="M250.11 220.23L252.51 222.63L250.11 225.03L247.71 222.63Z" fill="#000" stroke="#000" stroke-width="0.9" stroke-linejoin="round"/>
<path d="M255.08 220.97L257.48 223.37L255.08 225.77L252.68 223.37Z" fill="#000" stroke="#000" stroke-width="0.9" stroke-linejoin="round"/>
<path d="M260.05 221.71L262.45 224.11L260.05 226.51L257.65 224.11Z" fill="#000" stroke="#000" stroke-width="0.9" stroke-linejoin="round"/>
<path d="M265.02 221.94L267.42 224.34L265.02 226.74L262.62 224.34Z" fill="#000" stroke="#000" stroke-width="0.9" stroke-linejoin="round"/>
<path d="M269.99 222.08L272.39 224.48L269.99 226.88L267.59 224.48Z" fill="#000" stroke="#000" stroke-width="0.9" stroke-linejoin="round"/>
<path d="M274.96 222.45L277.36 224.85L274.96 227.25L272.56 224.85Z" fill="#000" stroke="#000" stroke-width="0.9" stroke-linejoin="round"/>
<path d="M279.93 222.78L282.33 225.18L279.93 227.58L277.53 225.18Z" fill="#000" stroke="#000" stroke-width="0.9" stroke-linejoin="round"/>
<path d="M284.90 223.06L287.30 225.46L284.90 227.86L282.50 225.46Z" fill="#000" stroke="#000" stroke-width="0.9" stroke-linejoin="round"/>
<path d="M289.87 223.30L292.27 225.70L289.87 228.10L287.47 225.70Z" fill="#000" stroke="#000" stroke-width="0.9" stroke-linejoin="round"/>
<path d="M294.84 223.50L297.24 225.90L294.84 228.30L292.44 225.90Z" fill="#000" stroke="#000" stroke-width="0.9" stroke-linejoin="round"/>
<path d="M299.81 223.67L302.21 226.07L299.81 228.47L297.41 226.07Z" fill="#000" stroke="#000" stroke-width="0.9" stroke-linejoin="round"/>
<path d="M304.78 223.81L307.18 226.21L304.78 228.61L302.38 226.21Z" fill="#000" stroke="#000" stroke-width="0.9" stroke-linejoin="round"/>
<path d="M309.75 223.93L312.15 226.33L309.75 228.73L307.35 226.33Z" fill="#000" stroke="#000" stroke-width="0.9" stroke-linejoin="round"/>
<path d="M314.72 224.04L317.12 226.44L314.72 228.84L312.32 226.44Z" fill="#000" stroke="#000" stroke-width="0.9" stroke-linejoin="round"/>
<path d="M319.69 224.13L322.09 226.53L319.69 228.93L317.29 226.53Z" fill="#000" stroke="#000" stroke-width="0.9" stroke-linejoin="round"/>
<path d="M324.66 224.20L327.06 226.60L324.66 229.00L322.26 226.60Z" fill="#000" stroke="#000" stroke-width="0.9" stroke-linejoin="round"/>
<path d="M329.63 224.26L332.03 226.66L329.63 229.06L327.23 226.66Z" fill="#000" stroke="#000" stroke-width="0.9" stroke-linejoin="round"/>
</g>
<rect x="36.4" y="4.25" width="297.80" height="222.75" fill="none" stroke="#000" stroke-width="1.5"/>
<line x1="46.34" y1="227.0" x2="46.34" y2="224.25" stroke="#000" stroke-width="1.1"/>
<line x1="56.28" y1="227.0" x2="56.28" y2="224.25" stroke="#000" stroke-width="1.1"/>
<line x1="66.22" y1="227.0" x2="66.22" y2="224.25" stroke="#000" stroke-width="1.1"/>
<line x1="76.16" y1="227.0" x2="76.16" y2="224.25" stroke="#000" stroke-width="1.1"/>
<line x1="86.10" y1="227.0" x2="86.10" y2="223.05" stroke="#000" stroke-width="1.1"/>
<line x1="96.04" y1="227.0" x2="96.04" y2="224.25" stroke="#000" stroke-width="1.1"/>
<line x1="105.98" y1="227.0" x2="105.98" y2="224.25" stroke="#000" stroke-width="1.1"/>
<line x1="115.92" y1="227.0" x2="115.92" y2="224.25" stroke="#000" stroke-width="1.1"/>
<line x1="125.86" y1="227.0" x2="125.86" y2="224.25" stroke="#000" stroke-width="1.1"/>
<line x1="135.80" y1="227.0" x2="135.80" y2="223.05" stroke="#000" stroke-width="1.1"/>
<line x1="145.74" y1="227.0" x2="145.74" y2="224.25" stroke="#000" stroke-width="1.1"/>
<line x1="155.68" y1="227.0" x2="155.68" y2="224.25" stroke="#000" stroke-width="1.1"/>
<line x1="165.62" y1="227.0" x2="165.62" y2="224.25" stroke="#000" stroke-width="1.1"/>
<line x1="175.56" y1="227.0" x2="175.56" y2="224.25" stroke="#000" stroke-width="1.1"/>
<line x1="185.50" y1="227.0" x2="185.50" y2="223.05" stroke="#000" stroke-width="1.1"/>
<line x1="195.44" y1="227.0" x2="195.44" y2="224.25" stroke="#000" stroke-width="1.1"/>
<line x1="205.38" y1="227.0" x2="205.38" y2="224.25" stroke="#000" stroke-width="1.1"/>
<line x1="215.32" y1="227.0" x2="215.32" y2="224.25" stroke="#000" stroke-width="1.1"/>
<line x1="225.26" y1="227.0" x2="225.26" y2="224.25" stroke="#000" stroke-width="1.1"/>
<line x1="235.20" y1="227.0" x2="235.20" y2="223.05" stroke="#000" stroke-width="1.1"/>
<line x1="245.14" y1="227.0" x2="245.14" y2="224.25" stroke="#000" stroke-width="1.1"/>
<line x1="255.08" y1="227.0" x2="255.08" y2="224.25" stroke="#000" stroke-width="1.1"/>
<line x1="265.02" y1="227.0" x2="265.02" y2="224.25" stroke="#000" stroke-width="1.1"/>
<line x1="274.96" y1="227.0" x2="274.96" y2="224.25" stroke="#000" stroke-width="1.1"/>
<line x1="284.90" y1="227.0" x2="284.90" y2="223.05" stroke="#000" stroke-width="1.1"/>
<line x1="294.84" y1="227.0" x2="294.84" y2="224.25" stroke="#000" stroke-width="1.1"/>
<line x1="304.78" y1="227.0" x2="304.78" y2="224.25" stroke="#000" stroke-width="1.1"/>
<line x1="314.72" y1="227.0" x2="314.72" y2="224.25" stroke="#000" stroke-width="1.1"/>
<line x1="324.66" y1="227.0" x2="324.66" y2="224.25" stroke="#000" stroke-width="1.1"/>
<line x1="36.4" y1="215.86" x2="39.15" y2="215.86" stroke="#000" stroke-width="1.1"/>
<line x1="36.4" y1="204.72" x2="39.15" y2="204.72" stroke="#000" stroke-width="1.1"/>
<line x1="36.4" y1="193.59" x2="39.15" y2="193.59" stroke="#000" stroke-width="1.1"/>
<line x1="36.4" y1="182.45" x2="40.35" y2="182.45" stroke="#000" stroke-width="1.1"/>
<line x1="36.4" y1="171.31" x2="39.15" y2="171.31" stroke="#000" stroke-width="1.1"/>
<line x1="36.4" y1="160.18" x2="39.15" y2="160.18" stroke="#000" stroke-width="1.1"/>
<line x1="36.4" y1="149.04" x2="39.15" y2="149.04" stroke="#000" stroke-width="1.1"/>
<line x1="36.4" y1="137.90" x2="40.35" y2="137.90" stroke="#000" stroke-width="1.1"/>
<line x1="36.4" y1="126.76" x2="39.15" y2="126.76" stroke="#000" stroke-width="1.1"/>
<line x1="36.4" y1="115.62" x2="39.15" y2="115.62" stroke="#000" stroke-width="1.1"/>
<line x1="36.4" y1="104.49" x2="39.15" y2="104.49" stroke="#000" stroke-width="1.1"/>
<line x1="36.4" y1="93.35" x2="40.35" y2="93.35" stroke="#000" stroke-width="1.1"/>
<line x1="36.4" y1="82.21" x2="39.15" y2="82.21" stroke="#000" stroke-width="1.1"/>
<line x1="36.4" y1="71.07" x2="39.15" y2="71.07" stroke="#000" stroke-width="1.1"/>
<line x1="36.4" y1="59.94" x2="39.15" y2="59.94" stroke="#000" stroke-width="1.1"/>
<line x1="36.4" y1="48.80" x2="40.35" y2="48.80" stroke="#000" stroke-width="1.1"/>
<line x1="36.4" y1="37.66" x2="39.15" y2="37.66" stroke="#000" stroke-width="1.1"/>
<line x1="36.4" y1="26.53" x2="39.15" y2="26.53" stroke="#000" stroke-width="1.1"/>
<line x1="36.4" y1="15.39" x2="39.15" y2="15.39" stroke="#000" stroke-width="1.1"/>
<text transform="translate(36.40,241.9) scale(1,1.15)" font-family="Liberation Serif" font-size="13" text-anchor="middle">0</text>
<text transform="translate(86.10,241.9) scale(1,1.15)" font-family="Liberation Serif" font-size="13" text-anchor="middle">0.5</text>
<text transform="translate(135.80,241.9) scale(1,1.15)" font-family="Liberation Serif" font-size="13" text-anchor="middle">1</text>
<text transform="translate(185.50,241.9) scale(1,1.15)" font-family="Liberation Serif" font-size="13" text-anchor="middle">1.5</text>
<text transform="translate(235.20,241.9) scale(1,1.15)" font-family="Liberation Serif" font-size="13" text-anchor="middle">2</text>
<text transform="translate(284.90,241.9) scale(1,1.15)" font-family="Liberation Serif" font-size="13" text-anchor="middle">2.5</text>
<text transform="translate(334.60,241.9) scale(1,1.15)" font-family="Liberation Serif" font-size="13" text-anchor="middle">3</text>
<text transform="translate(31.10,232.30) scale(1,1.15)" font-family="Liberation Serif" font-size="13" text-anchor="end">0</text>
<text transform="translate(31.10,187.75) scale(1,1.15)" font-family="Liberation Serif" font-size="13" text-anchor="end">0.3</text>
<text transform="translate(31.10,143.20) scale(1,1.15)" font-family="Liberation Serif" font-size="13" text-anchor="end">0.6</text>
<text transform="translate(31.10,98.65) scale(1,1.15)" font-family="Liberation Serif" font-size="13" text-anchor="end">0.9</text>
<text transform="translate(31.10,54.10) scale(1,1.15)" font-family="Liberation Serif" font-size="13" text-anchor="end">1.2</text>
<text transform="translate(31.10,9.55) scale(1,1.15)" font-family="Liberation Serif" font-size="13" text-anchor="end">1.5</text>
<text transform="translate(8.80,116.5) rotate(-90) scale(1.09,1)" font-family="Liberation Serif" font-size="13" text-anchor="middle">PDF</text>
<rect x="160.20" y="247.2" width="1" height="12.00" fill="#333"/>
<text x="162.20" y="259.2" font-family="Liberation Serif" font-size="14">S</text>
<rect x="163.70" y="247.1" width="3.8" height="0.8" fill="#222"/>
<rect x="169.55" y="247.2" width="1" height="12.00" fill="#333"/>
<text x="171.30" y="259" font-family="Liberation Serif" font-size="14">/</text>
<rect x="176.25" y="247.2" width="1" height="12.00" fill="#333"/>
<text x="178.40" y="259.2" font-family="Liberation Serif" font-size="14">S</text>
<rect x="179.80" y="247.1" width="3.8" height="0.8" fill="#222"/>
<rect x="186.60" y="247.2" width="1" height="12.00" fill="#333"/>
<text x="188.50" y="251.4" font-family="Liberation Serif" font-size="10.5">rms</text>
<text x="189.00" y="265.1" font-family="Liberation Serif" font-size="9.3">fDNS</text>
<text transform="translate(254.90,28.9) scale(1,1.05)" font-family="Liberation Serif" font-size="11" word-spacing="-1.4">fDNS</text>
<line x1="217.90" y1="25.1" x2="247.40" y2="25.1" stroke="#ff0000" stroke-width="2.2"/>
<text transform="translate(254.90,41.4) scale(1,1.05)" font-family="Liberation Serif" font-size="11" word-spacing="-1.4">ILES</text>
<path d="M233.00 36.00L235.15 40.00L230.85 40.00Z" fill="#5cd85c" stroke="#00cc00" stroke-width="1.15" stroke-linejoin="round"/>
<text transform="translate(254.90,53.9) scale(1,1.05)" font-family="Liberation Serif" font-size="11" word-spacing="-1.4">DSM</text>
<circle cx="233.00" cy="50.70" r="1.95" fill="none" stroke="#0000ff" stroke-width="1.4"/>
<text transform="translate(254.90,66.4) scale(1,1.05)" font-family="Liberation Serif" font-size="11" word-spacing="-1.4">DMM</text>
<path d="M233.00 65.40L235.15 61.40L230.85 61.40Z" fill="#ff66ff" stroke="#ff00ff" stroke-width="1.15" stroke-linejoin="round"/>
<text transform="translate(254.90,78.9) scale(1,1.05)" font-family="Liberation Serif" font-size="11" word-spacing="-1.4">DNAM - GID</text>
<rect x="231.30" y="74.00" width="3.4" height="3.4" fill="none" stroke="#ff8020" stroke-width="1.4"/>
<text transform="translate(254.90,91.2) scale(1,1.05)" font-family="Liberation Serif" font-size="11" word-spacing="-1.4">DNAM - SSD</text>
<path d="M233.00 85.60L235.40 88.00L233.00 90.40L230.60 88.00Z" fill="#000" stroke="#000" stroke-width="0.9" stroke-linejoin="round"/>
<text transform="translate(229.60,112.60) scale(1,1.1)" font-family="Liberation Serif" font-size="11">N</text>
<text transform="translate(246.20,112.60) scale(1,1.1)" font-family="Liberation Serif" font-size="11">128</text>
<text transform="translate(263.50,105.60) scale(1,1.05)" font-family="Liberation Serif" font-size="7.5">3</text>
<text transform="translate(267.80,112.60) scale(1,1.1)" font-family="Liberation Serif" font-size="11">,</text>
<text transform="translate(271.90,112.60) scale(1,1.1)" font-family="Liberation Serif" font-size="11">&#916;</text>
<text transform="translate(288.60,112.60) scale(1,1.1)" font-family="Liberation Serif" font-size="11">16h</text>
<text transform="translate(305.20,114.90) scale(1,1.05)" font-family="Liberation Serif" font-size="7.5">DNS</text>
<rect x="239.50" y="107.5" width="5" height="2.4" fill="#9a9a9a"/>
<rect x="280.60" y="107.5" width="5" height="2.4" fill="#9a9a9a"/>
<rect x="272.60" y="103.4" width="4.6" height="0.9" fill="#333"/>
<g clip-path="url(#clipR)">
<polyline points="384.80,227.00 385.79,227.00 386.78,227.00 387.78,227.00 388.77,227.00 389.76,227.00 390.75,227.00 391.74,227.00 392.74,226.95 393.73,226.85 394.72,226.66 395.71,226.38 396.70,226.01 397.70,225.51 398.69,224.86 399.68,224.06 400.67,223.08 401.66,221.91 402.66,220.53 403.65,218.94 404.64,217.13 405.63,215.09 406.62,212.81 407.62,210.31 408.61,207.58 409.60,204.64 410.59,201.48 411.58,198.13 412.58,194.59 413.57,190.88 414.56,187.01 415.55,183.01 416.54,178.89 417.54,174.66 418.53,170.35 419.52,165.96 420.51,161.52 421.50,157.03 422.50,152.52 423.49,148.00 424.48,143.48 425.47,138.99 426.46,134.52 427.46,130.11 428.45,125.76 429.44,121.49 430.43,117.30 431.42,113.22 432.42,109.26 433.41,105.42 434.40,101.71 435.39,98.15 436.38,94.73 437.38,91.46 438.37,88.34 439.36,85.37 440.35,82.55 441.34,79.89 442.34,77.38 443.33,75.02 444.32,72.82 445.31,70.77 446.30,68.88 447.30,67.14 448.29,65.57 449.28,64.16 450.27,62.91 451.26,61.83 452.26,60.91 453.25,60.15 454.24,59.56 455.23,59.14 456.22,58.87 457.22,58.78 458.21,58.85 459.20,59.07 460.19,59.46 461.18,59.99 462.18,60.67 463.17,61.49 464.16,62.44 465.15,63.52 466.14,64.71 467.14,66.01 468.13,67.42 469.12,68.92 470.11,70.51 471.10,72.19 472.10,73.93 473.09,75.74 474.08,77.61 475.07,79.52 476.06,81.48 477.06,83.47 478.05,85.49 479.04,87.54 480.03,89.60 481.02,91.68 482.02,93.76 483.01,95.84 484.00,97.91 484.99,99.98 485.98,102.04 486.98,104.08 487.97,106.11 488.96,108.13 489.95,110.15 490.94,112.15 491.94,114.16 492.93,116.16 493.92,118.16 494.91,120.16 495.90,122.16 496.90,124.16 497.89,126.16 498.88,128.16 499.87,130.15 500.86,132.15 501.86,134.15 502.85,136.14 503.84,138.14 504.83,140.14 505.82,142.13 506.82,144.11 507.81,146.08 508.80,148.02 509.79,149.93 510.78,151.82 511.78,153.66 512.77,155.47 513.76,157.22 514.75,158.93 515.74,160.59 516.74,162.19 517.73,163.73 518.72,165.22 519.71,166.66 520.70,168.05 521.70,169.42 522.69,170.76 523.68,172.08 524.67,173.38 525.66,174.68 526.66,175.96 527.65,177.22 528.64,178.47 529.63,179.71 530.62,180.93 531.62,182.13 532.61,183.32 533.60,184.50 534.59,185.67 535.58,186.83 536.58,187.97 537.57,189.10 538.56,190.21 539.55,191.30 540.54,192.36 541.54,193.41 542.53,194.42 543.52,195.40 544.51,196.36 545.50,197.29 546.50,198.19 547.49,199.07 548.48,199.92 549.47,200.75 550.46,201.57 551.46,202.36 552.45,203.14 553.44,203.90 554.43,204.64 555.42,205.38 556.42,206.10 557.41,206.81 558.40,207.51 559.39,208.19 560.38,208.85 561.38,209.49 562.37,210.10 563.36,210.69 564.35,211.26 565.34,211.80 566.34,212.32 567.33,212.82 568.32,213.30 569.31,213.69 570.30,214.02 571.30,214.32 572.29,214.63 573.28,214.93 574.27,215.23 575.26,215.53 576.26,215.84 577.25,216.15 578.24,216.46 579.23,216.77 580.22,217.08 581.22,217.38 582.21,217.68 583.20,217.98 584.19,218.26 585.18,218.54 586.18,218.81 587.17,219.07 588.16,219.33 589.15,219.57 590.14,219.81 591.14,220.04 592.13,220.27 593.12,220.49 594.11,220.70 595.10,220.90 596.10,221.10 597.09,221.30 598.08,221.48 599.07,221.66 600.06,221.84 601.06,222.01 602.05,222.17 603.04,222.33 604.03,222.48 605.02,222.63 606.02,222.78 607.01,222.91 608.00,223.05 608.99,223.18 609.98,223.31 610.98,223.43 611.97,223.55 612.96,223.66 613.95,223.77 614.94,223.88 615.94,223.99 616.93,224.09 617.92,224.18 618.91,224.28 619.90,224.37 620.90,224.46 621.89,224.54 622.88,224.63 623.87,224.71 624.86,224.78 625.86,224.86 626.85,224.93 627.84,225.00 628.83,225.07 629.82,225.13 630.82,225.20 631.81,225.26 632.80,225.32 633.79,225.37 634.78,225.43 635.78,225.48 636.77,225.53 637.76,225.58 638.75,225.63 639.74,225.68 640.74,225.72 641.73,225.77 642.72,225.81 643.71,225.85 644.70,225.89 645.70,225.93 646.69,225.96 647.68,226.00 648.67,226.03 649.66,226.07 650.66,226.10 651.65,226.13 652.64,226.16 653.63,226.19 654.62,226.22 655.62,226.24 656.61,226.27 657.60,226.29 658.59,226.32 659.58,226.34 660.58,226.36 661.57,226.39 662.56,226.41 663.55,226.43 664.54,226.45 665.54,226.47 666.53,226.48 667.52,226.50 668.51,226.52 669.50,226.54 670.50,226.55 671.49,226.57 672.48,226.58 673.47,226.60 674.46,226.61 675.46,226.62 676.45,226.64 677.44,226.65 678.43,226.66 679.42,226.67 680.42,226.69 681.41,226.70 682.40,226.71" fill="none" stroke="#ff0000" stroke-width="2.25" stroke-linejoin="round"/>
<path d="M384.80 224.80L386.95 228.80L382.65 228.80Z" fill="#5cd85c" stroke="#00cc00" stroke-width="1.15" stroke-linejoin="round"/>
<path d="M389.76 224.80L391.91 228.80L387.61 228.80Z" fill="#5cd85c" stroke="#00cc00" stroke-width="1.15" stroke-linejoin="round"/>
<path d="M394.72 224.77L396.87 228.77L392.57 228.77Z" fill="#5cd85c" stroke="#00cc00" stroke-width="1.15" stroke-linejoin="round"/>
<path d="M399.68 224.58L401.83 228.58L397.53 228.58Z" fill="#5cd85c" stroke="#00cc00" stroke-width="1.15" stroke-linejoin="round"/>
<path d="M404.64 223.63L406.79 227.63L402.49 227.63Z" fill="#5cd85c" stroke="#00cc00" stroke-width="1.15" stroke-linejoin="round"/>
<path d="M409.60 221.80L411.75 225.80L407.45 225.80Z" fill="#5cd85c" stroke="#00cc00" stroke-width="1.15" stroke-linejoin="round"/>
<path d="M414.56 219.23L416.71 223.23L412.41 223.23Z" fill="#5cd85c" stroke="#00cc00" stroke-width="1.15" stroke-linejoin="round"/>
<path d="M419.52 215.47L421.67 219.47L417.37 219.47Z" fill="#5cd85c" stroke="#00cc00" stroke-width="1.15" stroke-linejoin="round"/>
<path d="M424.48 210.34L426.63 214.34L422.33 214.34Z" fill="#5cd85c" stroke="#00cc00" stroke-width="1.15" stroke-linejoin="round"/>
<path d="M429.44 203.77L431.59 207.77L427.29 207.77Z" fill="#5cd85c" stroke="#00cc00" stroke-width="1.15" stroke-linejoin="round"/>
<path d="M434.40 196.10L436.55 200.10L432.25 200.10Z" fill="#5cd85c" stroke="#00cc00" stroke-width="1.15" stroke-linejoin="round"/>
<path d="M439.36 187.54L441.51 191.54L437.21 191.54Z" fill="#5cd85c" stroke="#00cc00" stroke-width="1.15" stroke-linejoin="round"/>
<path d="M444.32 178.47L446.47 182.47L442.17 182.47Z" fill="#5cd85c" stroke="#00cc00" stroke-width="1.15" stroke-linejoin="round"/>
<path d="M449.28 169.15L451.43 173.15L447.13 173.15Z" fill="#5cd85c" stroke="#00cc00" stroke-width="1.15" stroke-linejoin="round"/>
<path d="M454.24 159.71L456.39 163.71L452.09 163.71Z" fill="#5cd85c" stroke="#00cc00" stroke-width="1.15" stroke-linejoin="round"/>
<path d="M459.20 150.68L461.35 154.68L457.05 154.68Z" fill="#5cd85c" stroke="#00cc00" stroke-width="1.15" stroke-linejoin="round"/>
<path d="M464.16 142.70L466.31 146.70L462.01 146.70Z" fill="#5cd85c" stroke="#00cc00" stroke-width="1.15" stroke-linejoin="round"/>
<path d="M469.12 135.65L471.27 139.65L466.97 139.65Z" fill="#5cd85c" stroke="#00cc00" stroke-width="1.15" stroke-linejoin="round"/>
<path d="M474.08 129.30L476.23 133.30L471.93 133.30Z" fill="#5cd85c" stroke="#00cc00" stroke-width="1.15" stroke-linejoin="round"/>
<path d="M479.04 124.39L481.19 128.39L476.89 128.39Z" fill="#5cd85c" stroke="#00cc00" stroke-width="1.15" stroke-linejoin="round"/>
<path d="M484.00 120.86L486.15 124.86L481.85 124.86Z" fill="#5cd85c" stroke="#00cc00" stroke-width="1.15" stroke-linejoin="round"/>
<path d="M488.96 117.99L491.11 121.99L486.81 121.99Z" fill="#5cd85c" stroke="#00cc00" stroke-width="1.15" stroke-linejoin="round"/>
<path d="M493.92 116.54L496.07 120.54L491.77 120.54Z" fill="#5cd85c" stroke="#00cc00" stroke-width="1.15" stroke-linejoin="round"/>
<path d="M498.88 116.84L501.03 120.84L496.73 120.84Z" fill="#5cd85c" stroke="#00cc00" stroke-width="1.15" stroke-linejoin="round"/>
<path d="M503.84 117.83L505.99 121.83L501.69 121.83Z" fill="#5cd85c" stroke="#00cc00" stroke-width="1.15" stroke-linejoin="round"/>
<path d="M508.80 119.16L510.95 123.16L506.65 123.16Z" fill="#5cd85c" stroke="#00cc00" stroke-width="1.15" stroke-linejoin="round"/>
<path d="M513.76 121.38L515.91 125.38L511.61 125.38Z" fill="#5cd85c" stroke="#00cc00" stroke-width="1.15" stroke-linejoin="round"/>
<path d="M518.72 124.36L520.87 128.36L516.57 128.36Z" fill="#5cd85c" stroke="#00cc00" stroke-width="1.15" stroke-linejoin="round"/>
<path d="M523.68 127.64L525.83 131.64L521.53 131.64Z" fill="#5cd85c" stroke="#00cc00" stroke-width="1.15" stroke-linejoin="round"/>
<path d="M528.64 131.71L530.79 135.71L526.49 135.71Z" fill="#5cd85c" stroke="#00cc00" stroke-width="1.15" stroke-linejoin="round"/>
<path d="M533.60 135.85L535.75 139.85L531.45 139.85Z" fill="#5cd85c" stroke="#00cc00" stroke-width="1.15" stroke-linejoin="round"/>
<path d="M538.56 139.94L540.71 143.94L536.41 143.94Z" fill="#5cd85c" stroke="#00cc00" stroke-width="1.15" stroke-linejoin="round"/>
<path d="M543.52 144.67L545.67 148.67L541.37 148.67Z" fill="#5cd85c" stroke="#00cc00" stroke-width="1.15" stroke-linejoin="round"/>
<path d="M548.48 149.71L550.63 153.71L546.33 153.71Z" fill="#5cd85c" stroke="#00cc00" stroke-width="1.15" stroke-linejoin="round"/>
<path d="M553.44 154.62L555.59 158.62L551.29 158.62Z" fill="#5cd85c" stroke="#00cc00" stroke-width="1.15" stroke-linejoin="round"/>
<path d="M558.40 159.43L560.55 163.43L556.25 163.43Z" fill="#5cd85c" stroke="#00cc00" stroke-width="1.15" stroke-linejoin="round"/>
<path d="M563.36 163.63L565.51 167.63L561.21 167.63Z" fill="#5cd85c" stroke="#00cc00" stroke-width="1.15" stroke-linejoin="round"/>
<path d="M568.32 167.44L570.47 171.44L566.17 171.44Z" fill="#5cd85c" stroke="#00cc00" stroke-width="1.15" stroke-linejoin="round"/>
<path d="M573.28 171.46L575.43 175.46L571.13 175.46Z" fill="#5cd85c" stroke="#00cc00" stroke-width="1.15" stroke-linejoin="round"/>
<path d="M578.24 175.19L580.39 179.19L576.09 179.19Z" fill="#5cd85c" stroke="#00cc00" stroke-width="1.15" stroke-linejoin="round"/>
<path d="M583.20 179.10L585.35 183.10L581.05 183.10Z" fill="#5cd85c" stroke="#00cc00" stroke-width="1.15" stroke-linejoin="round"/>
<path d="M588.16 183.31L590.31 187.31L586.01 187.31Z" fill="#5cd85c" stroke="#00cc00" stroke-width="1.15" stroke-linejoin="round"/>
<path d="M593.12 187.00L595.27 191.00L590.97 191.00Z" fill="#5cd85c" stroke="#00cc00" stroke-width="1.15" stroke-linejoin="round"/>
<path d="M598.08 189.76L600.23 193.76L595.93 193.76Z" fill="#5cd85c" stroke="#00cc00" stroke-width="1.15" stroke-linejoin="round"/>
<path d="M603.04 192.81L605.19 196.81L600.89 196.81Z" fill="#5cd85c" stroke="#00cc00" stroke-width="1.15" stroke-linejoin="round"/>
<path d="M608.00 196.02L610.15 200.02L605.85 200.02Z" fill="#5cd85c" stroke="#00cc00" stroke-width="1.15" stroke-linejoin="round"/>
<path d="M612.96 198.71L615.11 202.71L610.81 202.71Z" fill="#5cd85c" stroke="#00cc00" stroke-width="1.15" stroke-linejoin="round"/>
<path d="M617.92 200.81L620.07 204.81L615.77 204.81Z" fill="#5cd85c" stroke="#00cc00" stroke-width="1.15" stroke-linejoin="round"/>
<path d="M622.88 202.58L625.03 206.58L620.73 206.58Z" fill="#5cd85c" stroke="#00cc00" stroke-width="1.15" stroke-linejoin="round"/>
<path d="M627.84 204.59L629.99 208.59L625.69 208.59Z" fill="#5cd85c" stroke="#00cc00" stroke-width="1.15" stroke-linejoin="round"/>
<path d="M632.80 206.57L634.95 210.57L630.65 210.57Z" fill="#5cd85c" stroke="#00cc00" stroke-width="1.15" stroke-linejoin="round"/>
<path d="M637.76 208.47L639.91 212.47L635.61 212.47Z" fill="#5cd85c" stroke="#00cc00" stroke-width="1.15" stroke-linejoin="round"/>
<path d="M642.72 210.21L644.87 214.21L640.57 214.21Z" fill="#5cd85c" stroke="#00cc00" stroke-width="1.15" stroke-linejoin="round"/>
<path d="M647.68 211.79L649.83 215.79L645.53 215.79Z" fill="#5cd85c" stroke="#00cc00" stroke-width="1.15" stroke-linejoin="round"/>
<path d="M652.64 213.29L654.79 217.29L650.49 217.29Z" fill="#5cd85c" stroke="#00cc00" stroke-width="1.15" stroke-linejoin="round"/>
<path d="M657.60 214.51L659.75 218.51L655.45 218.51Z" fill="#5cd85c" stroke="#00cc00" stroke-width="1.15" stroke-linejoin="round"/>
<path d="M662.56 215.49L664.71 219.49L660.41 219.49Z" fill="#5cd85c" stroke="#00cc00" stroke-width="1.15" stroke-linejoin="round"/>
<path d="M667.52 216.38L669.67 220.38L665.37 220.38Z" fill="#5cd85c" stroke="#00cc00" stroke-width="1.15" stroke-linejoin="round"/>
<path d="M672.48 217.04L674.63 221.04L670.33 221.04Z" fill="#5cd85c" stroke="#00cc00" stroke-width="1.15" stroke-linejoin="round"/>
<path d="M677.44 217.80L679.59 221.80L675.29 221.80Z" fill="#5cd85c" stroke="#00cc00" stroke-width="1.15" stroke-linejoin="round"/>
<circle cx="384.80" cy="227.00" r="1.95" fill="none" stroke="#0000ff" stroke-width="1.4"/>
<circle cx="389.76" cy="226.99" r="1.95" fill="none" stroke="#0000ff" stroke-width="1.4"/>
<circle cx="394.72" cy="226.62" r="1.95" fill="none" stroke="#0000ff" stroke-width="1.4"/>
<circle cx="399.68" cy="223.95" r="1.95" fill="none" stroke="#0000ff" stroke-width="1.4"/>
<circle cx="404.64" cy="216.72" r="1.95" fill="none" stroke="#0000ff" stroke-width="1.4"/>
<circle cx="409.60" cy="203.78" r="1.95" fill="none" stroke="#0000ff" stroke-width="1.4"/>
<circle cx="414.56" cy="184.83" r="1.95" fill="none" stroke="#0000ff" stroke-width="1.4"/>
<circle cx="419.52" cy="160.83" r="1.95" fill="none" stroke="#0000ff" stroke-width="1.4"/>
<circle cx="424.48" cy="134.91" r="1.95" fill="none" stroke="#0000ff" stroke-width="1.4"/>
<circle cx="429.44" cy="108.79" r="1.95" fill="none" stroke="#0000ff" stroke-width="1.4"/>
<circle cx="434.40" cy="85.14" r="1.95" fill="none" stroke="#0000ff" stroke-width="1.4"/>
<circle cx="439.36" cy="66.43" r="1.95" fill="none" stroke="#0000ff" stroke-width="1.4"/>
<circle cx="444.32" cy="52.37" r="1.95" fill="none" stroke="#0000ff" stroke-width="1.4"/>
<circle cx="449.28" cy="44.29" r="1.95" fill="none" stroke="#0000ff" stroke-width="1.4"/>
<circle cx="454.24" cy="42.44" r="1.95" fill="none" stroke="#0000ff" stroke-width="1.4"/>
<circle cx="459.20" cy="45.14" r="1.95" fill="none" stroke="#0000ff" stroke-width="1.4"/>
<circle cx="464.16" cy="51.83" r="1.95" fill="none" stroke="#0000ff" stroke-width="1.4"/>
<circle cx="469.12" cy="60.92" r="1.95" fill="none" stroke="#0000ff" stroke-width="1.4"/>
<circle cx="474.08" cy="71.70" r="1.95" fill="none" stroke="#0000ff" stroke-width="1.4"/>
<circle cx="479.04" cy="84.01" r="1.95" fill="none" stroke="#0000ff" stroke-width="1.4"/>
<circle cx="484.00" cy="97.86" r="1.95" fill="none" stroke="#0000ff" stroke-width="1.4"/>
<circle cx="488.96" cy="111.69" r="1.95" fill="none" stroke="#0000ff" stroke-width="1.4"/>
<circle cx="493.92" cy="124.66" r="1.95" fill="none" stroke="#0000ff" stroke-width="1.4"/>
<circle cx="498.88" cy="137.03" r="1.95" fill="none" stroke="#0000ff" stroke-width="1.4"/>
<circle cx="503.84" cy="148.37" r="1.95" fill="none" stroke="#0000ff" stroke-width="1.4"/>
<circle cx="508.80" cy="159.44" r="1.95" fill="none" stroke="#0000ff" stroke-width="1.4"/>
<circle cx="513.76" cy="168.93" r="1.95" fill="none" stroke="#0000ff" stroke-width="1.4"/>
<circle cx="518.72" cy="176.79" r="1.95" fill="none" stroke="#0000ff" stroke-width="1.4"/>
<circle cx="523.68" cy="183.64" r="1.95" fill="none" stroke="#0000ff" stroke-width="1.4"/>
<circle cx="528.64" cy="190.01" r="1.95" fill="none" stroke="#0000ff" stroke-width="1.4"/>
<circle cx="533.60" cy="196.07" r="1.95" fill="none" stroke="#0000ff" stroke-width="1.4"/>
<circle cx="538.56" cy="201.41" r="1.95" fill="none" stroke="#0000ff" stroke-width="1.4"/>
<circle cx="543.52" cy="205.81" r="1.95" fill="none" stroke="#0000ff" stroke-width="1.4"/>
<circle cx="548.48" cy="209.26" r="1.95" fill="none" stroke="#0000ff" stroke-width="1.4"/>
<circle cx="553.44" cy="211.99" r="1.95" fill="none" stroke="#0000ff" stroke-width="1.4"/>
<circle cx="558.40" cy="214.62" r="1.95" fill="none" stroke="#0000ff" stroke-width="1.4"/>
<circle cx="563.36" cy="216.92" r="1.95" fill="none" stroke="#0000ff" stroke-width="1.4"/>
<circle cx="568.32" cy="218.71" r="1.95" fill="none" stroke="#0000ff" stroke-width="1.4"/>
<circle cx="573.28" cy="220.19" r="1.95" fill="none" stroke="#0000ff" stroke-width="1.4"/>
<circle cx="578.24" cy="221.42" r="1.95" fill="none" stroke="#0000ff" stroke-width="1.4"/>
<circle cx="583.20" cy="222.43" r="1.95" fill="none" stroke="#0000ff" stroke-width="1.4"/>
<circle cx="588.16" cy="223.27" r="1.95" fill="none" stroke="#0000ff" stroke-width="1.4"/>
<circle cx="593.12" cy="223.96" r="1.95" fill="none" stroke="#0000ff" stroke-width="1.4"/>
<circle cx="598.08" cy="224.53" r="1.95" fill="none" stroke="#0000ff" stroke-width="1.4"/>
<circle cx="603.04" cy="224.99" r="1.95" fill="none" stroke="#0000ff" stroke-width="1.4"/>
<circle cx="608.00" cy="225.37" r="1.95" fill="none" stroke="#0000ff" stroke-width="1.4"/>
<circle cx="612.96" cy="225.68" r="1.95" fill="none" stroke="#0000ff" stroke-width="1.4"/>
<circle cx="617.92" cy="225.93" r="1.95" fill="none" stroke="#0000ff" stroke-width="1.4"/>
<circle cx="622.88" cy="226.14" r="1.95" fill="none" stroke="#0000ff" stroke-width="1.4"/>
<circle cx="627.84" cy="226.30" r="1.95" fill="none" stroke="#0000ff" stroke-width="1.4"/>
<circle cx="632.80" cy="226.44" r="1.95" fill="none" stroke="#0000ff" stroke-width="1.4"/>
<circle cx="637.76" cy="226.55" r="1.95" fill="none" stroke="#0000ff" stroke-width="1.4"/>
<circle cx="642.72" cy="226.63" r="1.95" fill="none" stroke="#0000ff" stroke-width="1.4"/>
<circle cx="647.68" cy="226.71" r="1.95" fill="none" stroke="#0000ff" stroke-width="1.4"/>
<circle cx="652.64" cy="226.76" r="1.95" fill="none" stroke="#0000ff" stroke-width="1.4"/>
<circle cx="657.60" cy="226.81" r="1.95" fill="none" stroke="#0000ff" stroke-width="1.4"/>
<circle cx="662.56" cy="226.85" r="1.95" fill="none" stroke="#0000ff" stroke-width="1.4"/>
<circle cx="667.52" cy="226.88" r="1.95" fill="none" stroke="#0000ff" stroke-width="1.4"/>
<circle cx="672.48" cy="226.90" r="1.95" fill="none" stroke="#0000ff" stroke-width="1.4"/>
<circle cx="677.44" cy="226.92" r="1.95" fill="none" stroke="#0000ff" stroke-width="1.4"/>
<path d="M384.80 229.20L386.95 225.20L382.65 225.20Z" fill="#ff66ff" stroke="#ff00ff" stroke-width="1.15" stroke-linejoin="round"/>
<path d="M389.76 229.19L391.91 225.19L387.61 225.19Z" fill="#ff66ff" stroke="#ff00ff" stroke-width="1.15" stroke-linejoin="round"/>
<path d="M394.72 228.77L396.87 224.77L392.57 224.77Z" fill="#ff66ff" stroke="#ff00ff" stroke-width="1.15" stroke-linejoin="round"/>
<path d="M399.68 225.58L401.83 221.58L397.53 221.58Z" fill="#ff66ff" stroke="#ff00ff" stroke-width="1.15" stroke-linejoin="round"/>
<path d="M404.64 217.41L406.79 213.41L402.49 213.41Z" fill="#ff66ff" stroke="#ff00ff" stroke-width="1.15" stroke-linejoin="round"/>
<path d="M409.60 203.13L411.75 199.13L407.45 199.13Z" fill="#ff66ff" stroke="#ff00ff" stroke-width="1.15" stroke-linejoin="round"/>
<path d="M414.56 182.00L416.71 178.00L412.41 178.00Z" fill="#ff66ff" stroke="#ff00ff" stroke-width="1.15" stroke-linejoin="round"/>
<path d="M419.52 156.35L421.67 152.35L417.37 152.35Z" fill="#ff66ff" stroke="#ff00ff" stroke-width="1.15" stroke-linejoin="round"/>
<path d="M424.48 128.30L426.63 124.30L422.33 124.30Z" fill="#ff66ff" stroke="#ff00ff" stroke-width="1.15" stroke-linejoin="round"/>
<path d="M429.44 100.48L431.59 96.48L427.29 96.48Z" fill="#ff66ff" stroke="#ff00ff" stroke-width="1.15" stroke-linejoin="round"/>
<path d="M434.40 75.78L436.55 71.78L432.25 71.78Z" fill="#ff66ff" stroke="#ff00ff" stroke-width="1.15" stroke-linejoin="round"/>
<path d="M439.36 55.81L441.51 51.81L437.21 51.81Z" fill="#ff66ff" stroke="#ff00ff" stroke-width="1.15" stroke-linejoin="round"/>
<path d="M444.32 42.61L446.47 38.61L442.17 38.61Z" fill="#ff66ff" stroke="#ff00ff" stroke-width="1.15" stroke-linejoin="round"/>
<path d="M449.28 36.21L451.43 32.21L447.13 32.21Z" fill="#ff66ff" stroke="#ff00ff" stroke-width="1.15" stroke-linejoin="round"/>
<path d="M454.24 34.47L456.39 30.47L452.09 30.47Z" fill="#ff66ff" stroke="#ff00ff" stroke-width="1.15" stroke-linejoin="round"/>
<path d="M459.20 38.48L461.35 34.48L457.05 34.48Z" fill="#ff66ff" stroke="#ff00ff" stroke-width="1.15" stroke-linejoin="round"/>
<path d="M464.16 47.14L466.31 43.14L462.01 43.14Z" fill="#ff66ff" stroke="#ff00ff" stroke-width="1.15" stroke-linejoin="round"/>
<path d="M469.12 59.61L471.27 55.61L466.97 55.61Z" fill="#ff66ff" stroke="#ff00ff" stroke-width="1.15" stroke-linejoin="round"/>
<path d="M474.08 74.12L476.23 70.12L471.93 70.12Z" fill="#ff66ff" stroke="#ff00ff" stroke-width="1.15" stroke-linejoin="round"/>
<path d="M479.04 88.82L481.19 84.82L476.89 84.82Z" fill="#ff66ff" stroke="#ff00ff" stroke-width="1.15" stroke-linejoin="round"/>
<path d="M484.00 104.46L486.15 100.46L481.85 100.46Z" fill="#ff66ff" stroke="#ff00ff" stroke-width="1.15" stroke-linejoin="round"/>
<path d="M488.96 118.69L491.11 114.69L486.81 114.69Z" fill="#ff66ff" stroke="#ff00ff" stroke-width="1.15" stroke-linejoin="round"/>
<path d="M493.92 132.15L496.07 128.15L491.77 128.15Z" fill="#ff66ff" stroke="#ff00ff" stroke-width="1.15" stroke-linejoin="round"/>
<path d="M498.88 145.23L501.03 141.23L496.73 141.23Z" fill="#ff66ff" stroke="#ff00ff" stroke-width="1.15" stroke-linejoin="round"/>
<path d="M503.84 157.18L505.99 153.18L501.69 153.18Z" fill="#ff66ff" stroke="#ff00ff" stroke-width="1.15" stroke-linejoin="round"/>
<path d="M508.80 167.44L510.95 163.44L506.65 163.44Z" fill="#ff66ff" stroke="#ff00ff" stroke-width="1.15" stroke-linejoin="round"/>
<path d="M513.76 176.47L515.91 172.47L511.61 172.47Z" fill="#ff66ff" stroke="#ff00ff" stroke-width="1.15" stroke-linejoin="round"/>
<path d="M518.72 184.20L520.87 180.20L516.57 180.20Z" fill="#ff66ff" stroke="#ff00ff" stroke-width="1.15" stroke-linejoin="round"/>
<path d="M523.68 190.62L525.83 186.62L521.53 186.62Z" fill="#ff66ff" stroke="#ff00ff" stroke-width="1.15" stroke-linejoin="round"/>
<path d="M528.64 197.15L530.79 193.15L526.49 193.15Z" fill="#ff66ff" stroke="#ff00ff" stroke-width="1.15" stroke-linejoin="round"/>
<path d="M533.60 202.46L535.75 198.46L531.45 198.46Z" fill="#ff66ff" stroke="#ff00ff" stroke-width="1.15" stroke-linejoin="round"/>
<path d="M538.56 207.05L540.71 203.05L536.41 203.05Z" fill="#ff66ff" stroke="#ff00ff" stroke-width="1.15" stroke-linejoin="round"/>
<path d="M543.52 210.64L545.67 206.64L541.37 206.64Z" fill="#ff66ff" stroke="#ff00ff" stroke-width="1.15" stroke-linejoin="round"/>
<path d="M548.48 214.56L550.63 210.56L546.33 210.56Z" fill="#ff66ff" stroke="#ff00ff" stroke-width="1.15" stroke-linejoin="round"/>
<path d="M553.44 217.77L555.59 213.77L551.29 213.77Z" fill="#ff66ff" stroke="#ff00ff" stroke-width="1.15" stroke-linejoin="round"/>
<path d="M558.40 219.95L560.55 215.95L556.25 215.95Z" fill="#ff66ff" stroke="#ff00ff" stroke-width="1.15" stroke-linejoin="round"/>
<path d="M563.36 221.71L565.51 217.71L561.21 217.71Z" fill="#ff66ff" stroke="#ff00ff" stroke-width="1.15" stroke-linejoin="round"/>
<path d="M568.32 223.16L570.47 219.16L566.17 219.16Z" fill="#ff66ff" stroke="#ff00ff" stroke-width="1.15" stroke-linejoin="round"/>
<path d="M573.28 224.33L575.43 220.33L571.13 220.33Z" fill="#ff66ff" stroke="#ff00ff" stroke-width="1.15" stroke-linejoin="round"/>
<path d="M578.24 225.29L580.39 221.29L576.09 221.29Z" fill="#ff66ff" stroke="#ff00ff" stroke-width="1.15" stroke-linejoin="round"/>
<path d="M583.20 226.07L585.35 222.07L581.05 222.07Z" fill="#ff66ff" stroke="#ff00ff" stroke-width="1.15" stroke-linejoin="round"/>
<path d="M588.16 226.70L590.31 222.70L586.01 222.70Z" fill="#ff66ff" stroke="#ff00ff" stroke-width="1.15" stroke-linejoin="round"/>
<path d="M593.12 227.20L595.27 223.20L590.97 223.20Z" fill="#ff66ff" stroke="#ff00ff" stroke-width="1.15" stroke-linejoin="round"/>
<path d="M598.08 227.61L600.23 223.61L595.93 223.61Z" fill="#ff66ff" stroke="#ff00ff" stroke-width="1.15" stroke-linejoin="round"/>
<path d="M603.04 227.93L605.19 223.93L600.89 223.93Z" fill="#ff66ff" stroke="#ff00ff" stroke-width="1.15" stroke-linejoin="round"/>
<path d="M608.00 228.19L610.15 224.19L605.85 224.19Z" fill="#ff66ff" stroke="#ff00ff" stroke-width="1.15" stroke-linejoin="round"/>
<path d="M612.96 228.40L615.11 224.40L610.81 224.40Z" fill="#ff66ff" stroke="#ff00ff" stroke-width="1.15" stroke-linejoin="round"/>
<path d="M617.92 228.57L620.07 224.57L615.77 224.57Z" fill="#ff66ff" stroke="#ff00ff" stroke-width="1.15" stroke-linejoin="round"/>
<path d="M622.88 228.70L625.03 224.70L620.73 224.70Z" fill="#ff66ff" stroke="#ff00ff" stroke-width="1.15" stroke-linejoin="round"/>
<path d="M627.84 228.81L629.99 224.81L625.69 224.81Z" fill="#ff66ff" stroke="#ff00ff" stroke-width="1.15" stroke-linejoin="round"/>
<path d="M632.80 228.89L634.95 224.89L630.65 224.89Z" fill="#ff66ff" stroke="#ff00ff" stroke-width="1.15" stroke-linejoin="round"/>
<path d="M637.76 228.96L639.91 224.96L635.61 224.96Z" fill="#ff66ff" stroke="#ff00ff" stroke-width="1.15" stroke-linejoin="round"/>
<path d="M642.72 229.01L644.87 225.01L640.57 225.01Z" fill="#ff66ff" stroke="#ff00ff" stroke-width="1.15" stroke-linejoin="round"/>
<path d="M647.68 229.05L649.83 225.05L645.53 225.05Z" fill="#ff66ff" stroke="#ff00ff" stroke-width="1.15" stroke-linejoin="round"/>
<path d="M652.64 229.08L654.79 225.08L650.49 225.08Z" fill="#ff66ff" stroke="#ff00ff" stroke-width="1.15" stroke-linejoin="round"/>
<path d="M657.60 229.11L659.75 225.11L655.45 225.11Z" fill="#ff66ff" stroke="#ff00ff" stroke-width="1.15" stroke-linejoin="round"/>
<path d="M662.56 229.13L664.71 225.13L660.41 225.13Z" fill="#ff66ff" stroke="#ff00ff" stroke-width="1.15" stroke-linejoin="round"/>
<path d="M667.52 229.14L669.67 225.14L665.37 225.14Z" fill="#ff66ff" stroke="#ff00ff" stroke-width="1.15" stroke-linejoin="round"/>
<path d="M672.48 229.16L674.63 225.16L670.33 225.16Z" fill="#ff66ff" stroke="#ff00ff" stroke-width="1.15" stroke-linejoin="round"/>
<path d="M677.44 229.16L679.59 225.16L675.29 225.16Z" fill="#ff66ff" stroke="#ff00ff" stroke-width="1.15" stroke-linejoin="round"/>
<rect x="383.10" y="225.30" width="3.4" height="3.4" fill="none" stroke="#ff8020" stroke-width="1.4"/>
<rect x="388.06" y="225.25" width="3.4" height="3.4" fill="none" stroke="#ff8020" stroke-width="1.4"/>
<rect x="393.02" y="223.99" width="3.4" height="3.4" fill="none" stroke="#ff8020" stroke-width="1.4"/>
<rect x="397.98" y="220.37" width="3.4" height="3.4" fill="none" stroke="#ff8020" stroke-width="1.4"/>
<rect x="402.94" y="212.80" width="3.4" height="3.4" fill="none" stroke="#ff8020" stroke-width="1.4"/>
<rect x="407.90" y="198.47" width="3.4" height="3.4" fill="none" stroke="#ff8020" stroke-width="1.4"/>
<rect x="412.86" y="177.05" width="3.4" height="3.4" fill="none" stroke="#ff8020" stroke-width="1.4"/>
<rect x="417.82" y="150.52" width="3.4" height="3.4" fill="none" stroke="#ff8020" stroke-width="1.4"/>
<rect x="422.78" y="120.87" width="3.4" height="3.4" fill="none" stroke="#ff8020" stroke-width="1.4"/>
<rect x="427.74" y="92.74" width="3.4" height="3.4" fill="none" stroke="#ff8020" stroke-width="1.4"/>
<rect x="432.70" y="68.05" width="3.4" height="3.4" fill="none" stroke="#ff8020" stroke-width="1.4"/>
<rect x="437.66" y="48.48" width="3.4" height="3.4" fill="none" stroke="#ff8020" stroke-width="1.4"/>
<rect x="442.62" y="35.91" width="3.4" height="3.4" fill="none" stroke="#ff8020" stroke-width="1.4"/>
<rect x="447.58" y="29.94" width="3.4" height="3.4" fill="none" stroke="#ff8020" stroke-width="1.4"/>
<rect x="452.54" y="30.92" width="3.4" height="3.4" fill="none" stroke="#ff8020" stroke-width="1.4"/>
<rect x="457.50" y="37.45" width="3.4" height="3.4" fill="none" stroke="#ff8020" stroke-width="1.4"/>
<rect x="462.46" y="46.66" width="3.4" height="3.4" fill="none" stroke="#ff8020" stroke-width="1.4"/>
<rect x="467.42" y="58.51" width="3.4" height="3.4" fill="none" stroke="#ff8020" stroke-width="1.4"/>
<rect x="472.38" y="72.72" width="3.4" height="3.4" fill="none" stroke="#ff8020" stroke-width="1.4"/>
<rect x="477.34" y="87.33" width="3.4" height="3.4" fill="none" stroke="#ff8020" stroke-width="1.4"/>
<rect x="482.30" y="102.68" width="3.4" height="3.4" fill="none" stroke="#ff8020" stroke-width="1.4"/>
<rect x="487.26" y="116.78" width="3.4" height="3.4" fill="none" stroke="#ff8020" stroke-width="1.4"/>
<rect x="492.22" y="130.11" width="3.4" height="3.4" fill="none" stroke="#ff8020" stroke-width="1.4"/>
<rect x="497.18" y="143.33" width="3.4" height="3.4" fill="none" stroke="#ff8020" stroke-width="1.4"/>
<rect x="502.14" y="155.02" width="3.4" height="3.4" fill="none" stroke="#ff8020" stroke-width="1.4"/>
<rect x="507.10" y="165.24" width="3.4" height="3.4" fill="none" stroke="#ff8020" stroke-width="1.4"/>
<rect x="512.06" y="174.38" width="3.4" height="3.4" fill="none" stroke="#ff8020" stroke-width="1.4"/>
<rect x="517.02" y="182.14" width="3.4" height="3.4" fill="none" stroke="#ff8020" stroke-width="1.4"/>
<rect x="521.98" y="188.42" width="3.4" height="3.4" fill="none" stroke="#ff8020" stroke-width="1.4"/>
<rect x="526.94" y="194.39" width="3.4" height="3.4" fill="none" stroke="#ff8020" stroke-width="1.4"/>
<rect x="531.90" y="199.73" width="3.4" height="3.4" fill="none" stroke="#ff8020" stroke-width="1.4"/>
<rect x="536.86" y="204.14" width="3.4" height="3.4" fill="none" stroke="#ff8020" stroke-width="1.4"/>
<rect x="541.82" y="207.69" width="3.4" height="3.4" fill="none" stroke="#ff8020" stroke-width="1.4"/>
<rect x="546.78" y="211.01" width="3.4" height="3.4" fill="none" stroke="#ff8020" stroke-width="1.4"/>
<rect x="551.74" y="213.83" width="3.4" height="3.4" fill="none" stroke="#ff8020" stroke-width="1.4"/>
<rect x="556.70" y="215.94" width="3.4" height="3.4" fill="none" stroke="#ff8020" stroke-width="1.4"/>
<rect x="561.66" y="217.68" width="3.4" height="3.4" fill="none" stroke="#ff8020" stroke-width="1.4"/>
<rect x="566.62" y="219.10" width="3.4" height="3.4" fill="none" stroke="#ff8020" stroke-width="1.4"/>
<rect x="571.58" y="220.28" width="3.4" height="3.4" fill="none" stroke="#ff8020" stroke-width="1.4"/>
<rect x="576.54" y="221.23" width="3.4" height="3.4" fill="none" stroke="#ff8020" stroke-width="1.4"/>
<rect x="581.50" y="222.02" width="3.4" height="3.4" fill="none" stroke="#ff8020" stroke-width="1.4"/>
<rect x="586.46" y="222.65" width="3.4" height="3.4" fill="none" stroke="#ff8020" stroke-width="1.4"/>
<rect x="591.42" y="223.17" width="3.4" height="3.4" fill="none" stroke="#ff8020" stroke-width="1.4"/>
<rect x="596.38" y="223.59" width="3.4" height="3.4" fill="none" stroke="#ff8020" stroke-width="1.4"/>
<rect x="601.34" y="223.92" width="3.4" height="3.4" fill="none" stroke="#ff8020" stroke-width="1.4"/>
<rect x="606.30" y="224.20" width="3.4" height="3.4" fill="none" stroke="#ff8020" stroke-width="1.4"/>
<rect x="611.26" y="224.42" width="3.4" height="3.4" fill="none" stroke="#ff8020" stroke-width="1.4"/>
<rect x="616.22" y="224.59" width="3.4" height="3.4" fill="none" stroke="#ff8020" stroke-width="1.4"/>
<rect x="621.18" y="224.73" width="3.4" height="3.4" fill="none" stroke="#ff8020" stroke-width="1.4"/>
<rect x="626.14" y="224.85" width="3.4" height="3.4" fill="none" stroke="#ff8020" stroke-width="1.4"/>
<rect x="631.10" y="224.94" width="3.4" height="3.4" fill="none" stroke="#ff8020" stroke-width="1.4"/>
<rect x="636.06" y="225.01" width="3.4" height="3.4" fill="none" stroke="#ff8020" stroke-width="1.4"/>
<rect x="641.02" y="225.07" width="3.4" height="3.4" fill="none" stroke="#ff8020" stroke-width="1.4"/>
<rect x="645.98" y="225.12" width="3.4" height="3.4" fill="none" stroke="#ff8020" stroke-width="1.4"/>
<rect x="650.94" y="225.15" width="3.4" height="3.4" fill="none" stroke="#ff8020" stroke-width="1.4"/>
<rect x="655.90" y="225.18" width="3.4" height="3.4" fill="none" stroke="#ff8020" stroke-width="1.4"/>
<rect x="660.86" y="225.21" width="3.4" height="3.4" fill="none" stroke="#ff8020" stroke-width="1.4"/>
<rect x="665.82" y="225.23" width="3.4" height="3.4" fill="none" stroke="#ff8020" stroke-width="1.4"/>
<rect x="670.78" y="225.24" width="3.4" height="3.4" fill="none" stroke="#ff8020" stroke-width="1.4"/>
<rect x="675.74" y="225.25" width="3.4" height="3.4" fill="none" stroke="#ff8020" stroke-width="1.4"/>
<path d="M384.80 224.60L387.20 227.00L384.80 229.40L382.40 227.00Z" fill="#000" stroke="#000" stroke-width="0.9" stroke-linejoin="round"/>
<path d="M389.76 223.97L392.16 226.37L389.76 228.77L387.36 226.37Z" fill="#000" stroke="#000" stroke-width="0.9" stroke-linejoin="round"/>
<path d="M394.72 223.02L397.12 225.42L394.72 227.82L392.32 225.42Z" fill="#000" stroke="#000" stroke-width="0.9" stroke-linejoin="round"/>
<path d="M399.68 221.64L402.08 224.04L399.68 226.44L397.28 224.04Z" fill="#000" stroke="#000" stroke-width="0.9" stroke-linejoin="round"/>
<path d="M404.64 217.67L407.04 220.07L404.64 222.47L402.24 220.07Z" fill="#000" stroke="#000" stroke-width="0.9" stroke-linejoin="round"/>
<path d="M409.60 209.25L412.00 211.65L409.60 214.05L407.20 211.65Z" fill="#000" stroke="#000" stroke-width="0.9" stroke-linejoin="round"/>
<path d="M414.56 196.04L416.96 198.44L414.56 200.84L412.16 198.44Z" fill="#000" stroke="#000" stroke-width="0.9" stroke-linejoin="round"/>
<path d="M419.52 178.75L421.92 181.15L419.52 183.55L417.12 181.15Z" fill="#000" stroke="#000" stroke-width="0.9" stroke-linejoin="round"/>
<path d="M424.48 158.60L426.88 161.00L424.48 163.40L422.08 161.00Z" fill="#000" stroke="#000" stroke-width="0.9" stroke-linejoin="round"/>
<path d="M429.44 137.02L431.84 139.42L429.44 141.82L427.04 139.42Z" fill="#000" stroke="#000" stroke-width="0.9" stroke-linejoin="round"/>
<path d="M434.40 115.73L436.80 118.13L434.40 120.53L432.00 118.13Z" fill="#000" stroke="#000" stroke-width="0.9" stroke-linejoin="round"/>
<path d="M439.36 96.90L441.76 99.30L439.36 101.70L436.96 99.30Z" fill="#000" stroke="#000" stroke-width="0.9" stroke-linejoin="round"/>
<path d="M444.32 80.95L446.72 83.35L444.32 85.75L441.92 83.35Z" fill="#000" stroke="#000" stroke-width="0.9" stroke-linejoin="round"/>
<path d="M449.28 69.41L451.68 71.81L449.28 74.21L446.88 71.81Z" fill="#000" stroke="#000" stroke-width="0.9" stroke-linejoin="round"/>
<path d="M454.24 61.68L456.64 64.08L454.24 66.48L451.84 64.08Z" fill="#000" stroke="#000" stroke-width="0.9" stroke-linejoin="round"/>
<path d="M459.20 57.96L461.60 60.36L459.20 62.76L456.80 60.36Z" fill="#000" stroke="#000" stroke-width="0.9" stroke-linejoin="round"/>
<path d="M464.16 58.52L466.56 60.92L464.16 63.32L461.76 60.92Z" fill="#000" stroke="#000" stroke-width="0.9" stroke-linejoin="round"/>
<path d="M469.12 62.32L471.52 64.72L469.12 67.12L466.72 64.72Z" fill="#000" stroke="#000" stroke-width="0.9" stroke-linejoin="round"/>
<path d="M474.08 68.71L476.48 71.11L474.08 73.51L471.68 71.11Z" fill="#000" stroke="#000" stroke-width="0.9" stroke-linejoin="round"/>
<path d="M479.04 77.08L481.44 79.48L479.04 81.88L476.64 79.48Z" fill="#000" stroke="#000" stroke-width="0.9" stroke-linejoin="round"/>
<path d="M484.00 86.78L486.40 89.18L484.00 91.58L481.60 89.18Z" fill="#000" stroke="#000" stroke-width="0.9" stroke-linejoin="round"/>
<path d="M488.96 97.55L491.36 99.95L488.96 102.35L486.56 99.95Z" fill="#000" stroke="#000" stroke-width="0.9" stroke-linejoin="round"/>
<path d="M493.92 108.70L496.32 111.10L493.92 113.50L491.52 111.10Z" fill="#000" stroke="#000" stroke-width="0.9" stroke-linejoin="round"/>
<path d="M498.88 119.82L501.28 122.22L498.88 124.62L496.48 122.22Z" fill="#000" stroke="#000" stroke-width="0.9" stroke-linejoin="round"/>
<path d="M503.84 130.24L506.24 132.64L503.84 135.04L501.44 132.64Z" fill="#000" stroke="#000" stroke-width="0.9" stroke-linejoin="round"/>
<path d="M508.80 140.25L511.20 142.65L508.80 145.05L506.40 142.65Z" fill="#000" stroke="#000" stroke-width="0.9" stroke-linejoin="round"/>
<path d="M513.76 149.77L516.16 152.17L513.76 154.57L511.36 152.17Z" fill="#000" stroke="#000" stroke-width="0.9" stroke-linejoin="round"/>
<path d="M518.72 158.59L521.12 160.99L518.72 163.39L516.32 160.99Z" fill="#000" stroke="#000" stroke-width="0.9" stroke-linejoin="round"/>
<path d="M523.68 166.47L526.08 168.87L523.68 171.27L521.28 168.87Z" fill="#000" stroke="#000" stroke-width="0.9" stroke-linejoin="round"/>
<path d="M528.64 173.38L531.04 175.78L528.64 178.18L526.24 175.78Z" fill="#000" stroke="#000" stroke-width="0.9" stroke-linejoin="round"/>
<path d="M533.60 179.77L536.00 182.17L533.60 184.57L531.20 182.17Z" fill="#000" stroke="#000" stroke-width="0.9" stroke-linejoin="round"/>
<path d="M538.56 186.12L540.96 188.52L538.56 190.92L536.16 188.52Z" fill="#000" stroke="#000" stroke-width="0.9" stroke-linejoin="round"/>
<path d="M543.52 191.56L545.92 193.96L543.52 196.36L541.12 193.96Z" fill="#000" stroke="#000" stroke-width="0.9" stroke-linejoin="round"/>
<path d="M548.48 196.01L550.88 198.41L548.48 200.81L546.08 198.41Z" fill="#000" stroke="#000" stroke-width="0.9" stroke-linejoin="round"/>
<path d="M553.44 199.67L555.84 202.07L553.44 204.47L551.04 202.07Z" fill="#000" stroke="#000" stroke-width="0.9" stroke-linejoin="round"/>
<path d="M558.40 202.87L560.80 205.27L558.40 207.67L556.00 205.27Z" fill="#000" stroke="#000" stroke-width="0.9" stroke-linejoin="round"/>
<path d="M563.36 205.85L565.76 208.25L563.36 210.65L560.96 208.25Z" fill="#000" stroke="#000" stroke-width="0.9" stroke-linejoin="round"/>
<path d="M568.32 208.40L570.72 210.80L568.32 213.20L565.92 210.80Z" fill="#000" stroke="#000" stroke-width="0.9" stroke-linejoin="round"/>
<path d="M573.28 210.60L575.68 213.00L573.28 215.40L570.88 213.00Z" fill="#000" stroke="#000" stroke-width="0.9" stroke-linejoin="round"/>
<path d="M578.24 212.69L580.64 215.09L578.24 217.49L575.84 215.09Z" fill="#000" stroke="#000" stroke-width="0.9" stroke-linejoin="round"/>
<path d="M583.20 214.56L585.60 216.96L583.20 219.36L580.80 216.96Z" fill="#000" stroke="#000" stroke-width="0.9" stroke-linejoin="round"/>
<path d="M588.16 216.27L590.56 218.67L588.16 221.07L585.76 218.67Z" fill="#000" stroke="#000" stroke-width="0.9" stroke-linejoin="round"/>
<path d="M593.12 217.74L595.52 220.14L593.12 222.54L590.72 220.14Z" fill="#000" stroke="#000" stroke-width="0.9" stroke-linejoin="round"/>
<path d="M598.08 218.89L600.48 221.29L598.08 223.69L595.68 221.29Z" fill="#000" stroke="#000" stroke-width="0.9" stroke-linejoin="round"/>
<path d="M603.04 219.73L605.44 222.13L603.04 224.53L600.64 222.13Z" fill="#000" stroke="#000" stroke-width="0.9" stroke-linejoin="round"/>
<path d="M608.00 220.44L610.40 222.84L608.00 225.24L605.60 222.84Z" fill="#000" stroke="#000" stroke-width="0.9" stroke-linejoin="round"/>
<path d="M612.96 221.03L615.36 223.43L612.96 225.83L610.56 223.43Z" fill="#000" stroke="#000" stroke-width="0.9" stroke-linejoin="round"/>
<path d="M617.92 221.53L620.32 223.93L617.92 226.33L615.52 223.93Z" fill="#000" stroke="#000" stroke-width="0.9" stroke-linejoin="round"/>
<path d="M622.88 222.04L625.28 224.44L622.88 226.84L620.48 224.44Z" fill="#000" stroke="#000" stroke-width="0.9" stroke-linejoin="round"/>
<path d="M627.84 222.56L630.24 224.96L627.84 227.36L625.44 224.96Z" fill="#000" stroke="#000" stroke-width="0.9" stroke-linejoin="round"/>
<path d="M632.80 222.98L635.20 225.38L632.80 227.78L630.40 225.38Z" fill="#000" stroke="#000" stroke-width="0.9" stroke-linejoin="round"/>
<path d="M637.76 223.25L640.16 225.65L637.76 228.05L635.36 225.65Z" fill="#000" stroke="#000" stroke-width="0.9" stroke-linejoin="round"/>
<path d="M642.72 223.48L645.12 225.88L642.72 228.28L640.32 225.88Z" fill="#000" stroke="#000" stroke-width="0.9" stroke-linejoin="round"/>
<path d="M647.68 223.67L650.08 226.07L647.68 228.47L645.28 226.07Z" fill="#000" stroke="#000" stroke-width="0.9" stroke-linejoin="round"/>
<path d="M652.64 223.82L655.04 226.22L652.64 228.62L650.24 226.22Z" fill="#000" stroke="#000" stroke-width="0.9" stroke-linejoin="round"/>
<path d="M657.60 223.95L660.00 226.35L657.60 228.75L655.20 226.35Z" fill="#000" stroke="#000" stroke-width="0.9" stroke-linejoin="round"/>
<path d="M662.56 224.06L664.96 226.46L662.56 228.86L660.16 226.46Z" fill="#000" stroke="#000" stroke-width="0.9" stroke-linejoin="round"/>
<path d="M667.52 224.15L669.92 226.55L667.52 228.95L665.12 226.55Z" fill="#000" stroke="#000" stroke-width="0.9" stroke-linejoin="round"/>
<path d="M672.48 224.23L674.88 226.63L672.48 229.03L670.08 226.63Z" fill="#000" stroke="#000" stroke-width="0.9" stroke-linejoin="round"/>
<path d="M677.44 224.29L679.84 226.69L677.44 229.09L675.04 226.69Z" fill="#000" stroke="#000" stroke-width="0.9" stroke-linejoin="round"/>
</g>
<rect x="384.8" y="4.25" width="297.20" height="222.75" fill="none" stroke="#000" stroke-width="1.5"/>
<line x1="394.72" y1="227.0" x2="394.72" y2="224.25" stroke="#000" stroke-width="1.1"/>
<line x1="404.64" y1="227.0" x2="404.64" y2="224.25" stroke="#000" stroke-width="1.1"/>
<line x1="414.56" y1="227.0" x2="414.56" y2="224.25" stroke="#000" stroke-width="1.1"/>
<line x1="424.48" y1="227.0" x2="424.48" y2="224.25" stroke="#000" stroke-width="1.1"/>
<line x1="434.40" y1="227.0" x2="434.40" y2="223.05" stroke="#000" stroke-width="1.1"/>
<line x1="444.32" y1="227.0" x2="444.32" y2="224.25" stroke="#000" stroke-width="1.1"/>
<line x1="454.24" y1="227.0" x2="454.24" y2="224.25" stroke="#000" stroke-width="1.1"/>
<line x1="464.16" y1="227.0" x2="464.16" y2="224.25" stroke="#000" stroke-width="1.1"/>
<line x1="474.08" y1="227.0" x2="474.08" y2="224.25" stroke="#000" stroke-width="1.1"/>
<line x1="484.00" y1="227.0" x2="484.00" y2="223.05" stroke="#000" stroke-width="1.1"/>
<line x1="493.92" y1="227.0" x2="493.92" y2="224.25" stroke="#000" stroke-width="1.1"/>
<line x1="503.84" y1="227.0" x2="503.84" y2="224.25" stroke="#000" stroke-width="1.1"/>
<line x1="513.76" y1="227.0" x2="513.76" y2="224.25" stroke="#000" stroke-width="1.1"/>
<line x1="523.68" y1="227.0" x2="523.68" y2="224.25" stroke="#000" stroke-width="1.1"/>
<line x1="533.60" y1="227.0" x2="533.60" y2="223.05" stroke="#000" stroke-width="1.1"/>
<line x1="543.52" y1="227.0" x2="543.52" y2="224.25" stroke="#000" stroke-width="1.1"/>
<line x1="553.44" y1="227.0" x2="553.44" y2="224.25" stroke="#000" stroke-width="1.1"/>
<line x1="563.36" y1="227.0" x2="563.36" y2="224.25" stroke="#000" stroke-width="1.1"/>
<line x1="573.28" y1="227.0" x2="573.28" y2="224.25" stroke="#000" stroke-width="1.1"/>
<line x1="583.20" y1="227.0" x2="583.20" y2="223.05" stroke="#000" stroke-width="1.1"/>
<line x1="593.12" y1="227.0" x2="593.12" y2="224.25" stroke="#000" stroke-width="1.1"/>
<line x1="603.04" y1="227.0" x2="603.04" y2="224.25" stroke="#000" stroke-width="1.1"/>
<line x1="612.96" y1="227.0" x2="612.96" y2="224.25" stroke="#000" stroke-width="1.1"/>
<line x1="622.88" y1="227.0" x2="622.88" y2="224.25" stroke="#000" stroke-width="1.1"/>
<line x1="632.80" y1="227.0" x2="632.80" y2="223.05" stroke="#000" stroke-width="1.1"/>
<line x1="642.72" y1="227.0" x2="642.72" y2="224.25" stroke="#000" stroke-width="1.1"/>
<line x1="652.64" y1="227.0" x2="652.64" y2="224.25" stroke="#000" stroke-width="1.1"/>
<line x1="662.56" y1="227.0" x2="662.56" y2="224.25" stroke="#000" stroke-width="1.1"/>
<line x1="672.48" y1="227.0" x2="672.48" y2="224.25" stroke="#000" stroke-width="1.1"/>
<line x1="384.8" y1="215.86" x2="387.55" y2="215.86" stroke="#000" stroke-width="1.1"/>
<line x1="384.8" y1="204.72" x2="387.55" y2="204.72" stroke="#000" stroke-width="1.1"/>
<line x1="384.8" y1="193.59" x2="387.55" y2="193.59" stroke="#000" stroke-width="1.1"/>
<line x1="384.8" y1="182.45" x2="388.75" y2="182.45" stroke="#000" stroke-width="1.1"/>
<line x1="384.8" y1="171.31" x2="387.55" y2="171.31" stroke="#000" stroke-width="1.1"/>
<line x1="384.8" y1="160.18" x2="387.55" y2="160.18" stroke="#000" stroke-width="1.1"/>
<line x1="384.8" y1="149.04" x2="387.55" y2="149.04" stroke="#000" stroke-width="1.1"/>
<line x1="384.8" y1="137.90" x2="388.75" y2="137.90" stroke="#000" stroke-width="1.1"/>
<line x1="384.8" y1="126.76" x2="387.55" y2="126.76" stroke="#000" stroke-width="1.1"/>
<line x1="384.8" y1="115.62" x2="387.55" y2="115.62" stroke="#000" stroke-width="1.1"/>
<line x1="384.8" y1="104.49" x2="387.55" y2="104.49" stroke="#000" stroke-width="1.1"/>
<line x1="384.8" y1="93.35" x2="388.75" y2="93.35" stroke="#000" stroke-width="1.1"/>
<line x1="384.8" y1="82.21" x2="387.55" y2="82.21" stroke="#000" stroke-width="1.1"/>
<line x1="384.8" y1="71.07" x2="387.55" y2="71.07" stroke="#000" stroke-width="1.1"/>
<line x1="384.8" y1="59.94" x2="387.55" y2="59.94" stroke="#000" stroke-width="1.1"/>
<line x1="384.8" y1="48.80" x2="388.75" y2="48.80" stroke="#000" stroke-width="1.1"/>
<line x1="384.8" y1="37.66" x2="387.55" y2="37.66" stroke="#000" stroke-width="1.1"/>
<line x1="384.8" y1="26.53" x2="387.55" y2="26.53" stroke="#000" stroke-width="1.1"/>
<line x1="384.8" y1="15.39" x2="387.55" y2="15.39" stroke="#000" stroke-width="1.1"/>
<text transform="translate(384.80,241.9) scale(1,1.15)" font-family="Liberation Serif" font-size="13" text-anchor="middle">0</text>
<text transform="translate(434.40,241.9) scale(1,1.15)" font-family="Liberation Serif" font-size="13" text-anchor="middle">0.5</text>
<text transform="translate(484.00,241.9) scale(1,1.15)" font-family="Liberation Serif" font-size="13" text-anchor="middle">1</text>
<text transform="translate(533.60,241.9) scale(1,1.15)" font-family="Liberation Serif" font-size="13" text-anchor="middle">1.5</text>
<text transform="translate(583.20,241.9) scale(1,1.15)" font-family="Liberation Serif" font-size="13" text-anchor="middle">2</text>
<text transform="translate(632.80,241.9) scale(1,1.15)" font-family="Liberation Serif" font-size="13" text-anchor="middle">2.5</text>
<text transform="translate(682.40,241.9) scale(1,1.15)" font-family="Liberation Serif" font-size="13" text-anchor="middle">3</text>
<text transform="translate(379.50,232.30) scale(1,1.15)" font-family="Liberation Serif" font-size="13" text-anchor="end">0</text>
<text transform="translate(379.50,187.75) scale(1,1.15)" font-family="Liberation Serif" font-size="13" text-anchor="end">0.3</text>
<text transform="translate(379.50,143.20) scale(1,1.15)" font-family="Liberation Serif" font-size="13" text-anchor="end">0.6</text>
<text transform="translate(379.50,98.65) scale(1,1.15)" font-family="Liberation Serif" font-size="13" text-anchor="end">0.9</text>
<text transform="translate(379.50,54.10) scale(1,1.15)" font-family="Liberation Serif" font-size="13" text-anchor="end">1.2</text>
<text transform="translate(379.50,9.55) scale(1,1.15)" font-family="Liberation Serif" font-size="13" text-anchor="end">1.5</text>
<text transform="translate(357.20,116.5) rotate(-90) scale(1.09,1)" font-family="Liberation Serif" font-size="13" text-anchor="middle">PDF</text>
<rect x="507.90" y="247.2" width="1" height="12.00" fill="#333"/>
<text x="509.90" y="259.2" font-family="Liberation Serif" font-size="14">S</text>
<rect x="511.40" y="247.1" width="3.8" height="0.8" fill="#222"/>
<rect x="517.25" y="247.2" width="1" height="12.00" fill="#333"/>
<text x="519.00" y="259" font-family="Liberation Serif" font-size="14">/</text>
<rect x="523.95" y="247.2" width="1" height="12.00" fill="#333"/>
<text x="526.10" y="259.2" font-family="Liberation Serif" font-size="14">S</text>
<rect x="527.50" y="247.1" width="3.8" height="0.8" fill="#222"/>
<rect x="534.30" y="247.2" width="1" height="12.00" fill="#333"/>
<text x="536.20" y="251.4" font-family="Liberation Serif" font-size="10.5">rms</text>
<text x="536.70" y="265.1" font-family="Liberation Serif" font-size="9.3">fDNS</text>
<text transform="translate(603.30,28.9) scale(1,1.05)" font-family="Liberation Serif" font-size="11" word-spacing="-1.4">fDNS</text>
<line x1="566.30" y1="25.1" x2="595.80" y2="25.1" stroke="#ff0000" stroke-width="2.2"/>
<text transform="translate(603.30,41.4) scale(1,1.05)" font-family="Liberation Serif" font-size="11" word-spacing="-1.4">ILES</text>
<path d="M581.40 36.00L583.55 40.00L579.25 40.00Z" fill="#5cd85c" stroke="#00cc00" stroke-width="1.15" stroke-linejoin="round"/>
<text transform="translate(603.30,53.9) scale(1,1.05)" font-family="Liberation Serif" font-size="11" word-spacing="-1.4">DSM</text>
<circle cx="581.40" cy="50.70" r="1.95" fill="none" stroke="#0000ff" stroke-width="1.4"/>
<text transform="translate(603.30,66.4) scale(1,1.05)" font-family="Liberation Serif" font-size="11" word-spacing="-1.4">DMM</text>
<path d="M581.40 65.40L583.55 61.40L579.25 61.40Z" fill="#ff66ff" stroke="#ff00ff" stroke-width="1.15" stroke-linejoin="round"/>
<text transform="translate(603.30,78.9) scale(1,1.05)" font-family="Liberation Serif" font-size="11" word-spacing="-1.4">DNAM - GID</text>
<rect x="579.70" y="74.00" width="3.4" height="3.4" fill="none" stroke="#ff8020" stroke-width="1.4"/>
<text transform="translate(603.30,91.2) scale(1,1.05)" font-family="Liberation Serif" font-size="11" word-spacing="-1.4">DNAM - SSD</text>
<path d="M581.40 85.60L583.80 88.00L581.40 90.40L579.00 88.00Z" fill="#000" stroke="#000" stroke-width="0.9" stroke-linejoin="round"/>
<text transform="translate(578.00,112.60) scale(1,1.1)" font-family="Liberation Serif" font-size="11">N</text>
<text transform="translate(594.60,112.60) scale(1,1.1)" font-family="Liberation Serif" font-size="11">64</text>
<text transform="translate(606.50,105.60) scale(1,1.05)" font-family="Liberation Serif" font-size="7.5">3</text>
<text transform="translate(611.80,112.60) scale(1,1.1)" font-family="Liberation Serif" font-size="11">,</text>
<text transform="translate(615.40,112.60) scale(1,1.1)" font-family="Liberation Serif" font-size="11">&#916;</text>
<text transform="translate(631.40,112.60) scale(1,1.1)" font-family="Liberation Serif" font-size="11">32h</text>
<text transform="translate(648.20,114.90) scale(1,1.05)" font-family="Liberation Serif" font-size="7.5">DNS</text>
<rect x="587.90" y="107.5" width="5" height="2.4" fill="#9a9a9a"/>
<rect x="624.00" y="107.5" width="5" height="2.4" fill="#9a9a9a"/>
<rect x="616.10" y="103.4" width="4.6" height="0.9" fill="#333"/>
</svg>
</body></html>
